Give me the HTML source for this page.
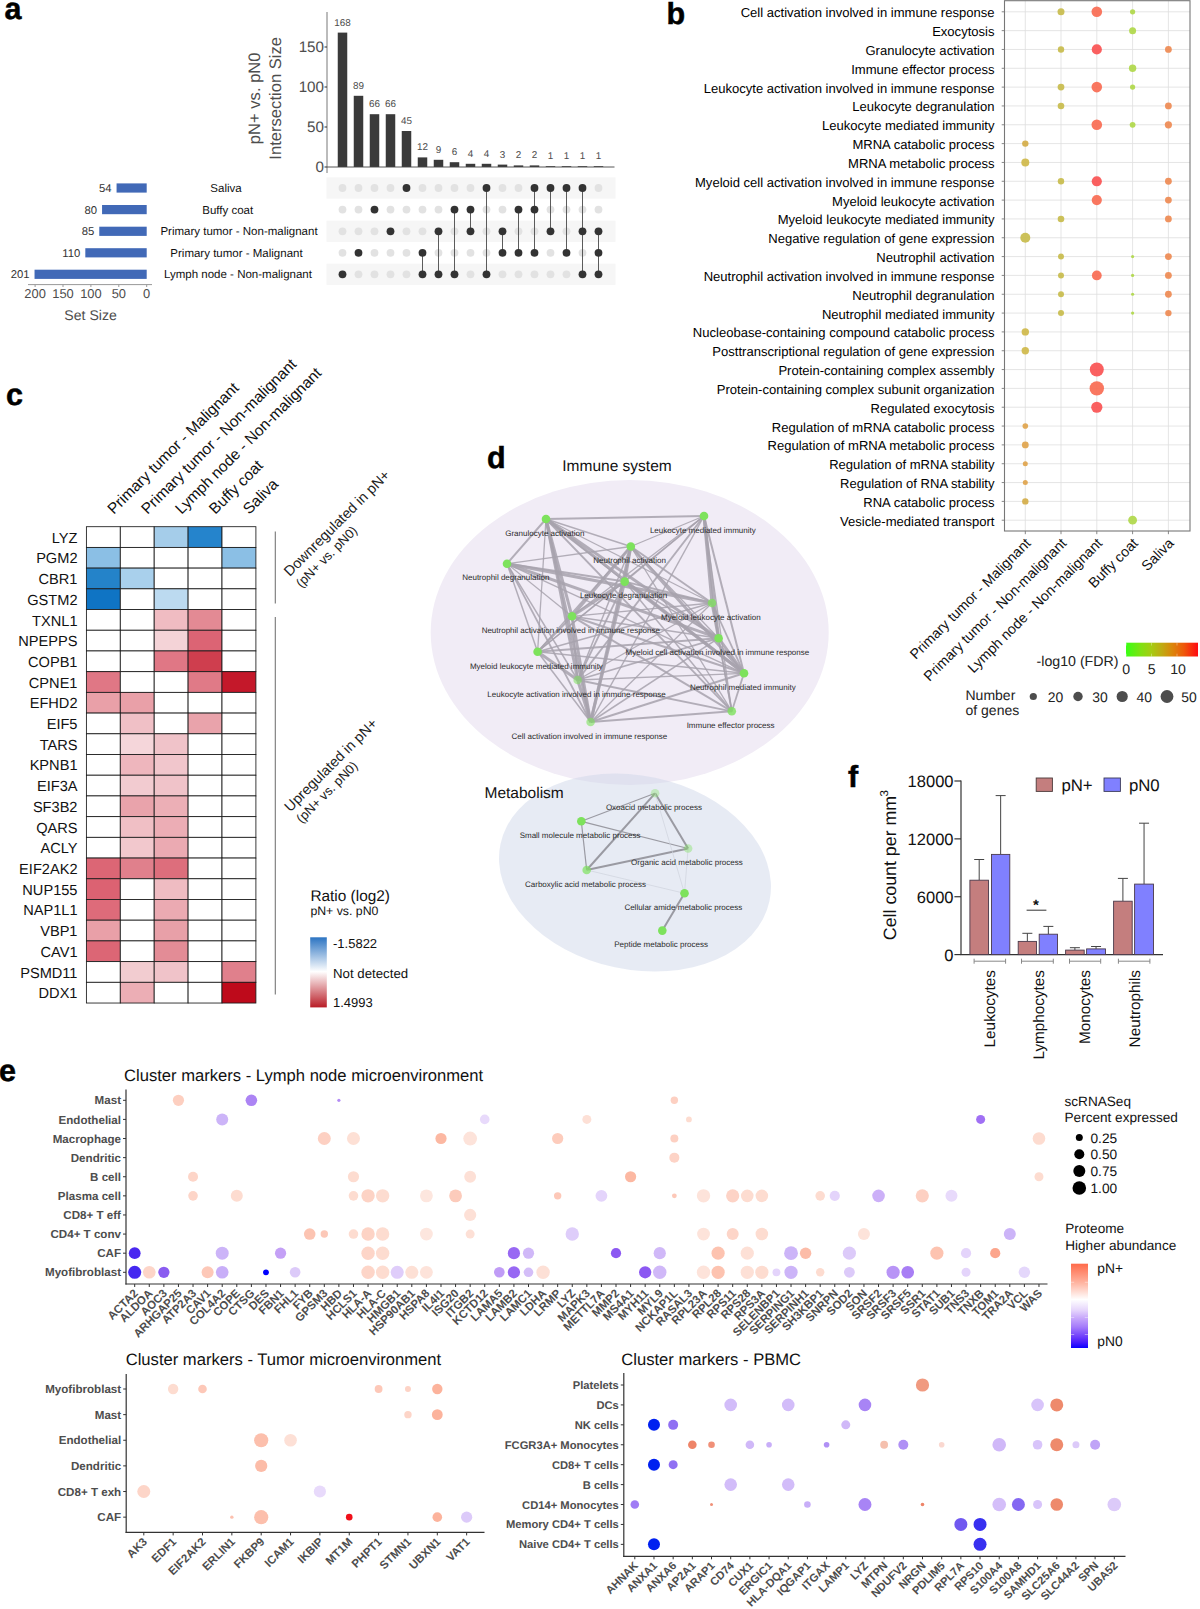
<!DOCTYPE html>
<html><head><meta charset="utf-8"><title>Figure</title>
<style>
html,body{margin:0;padding:0;background:#fff;}
body{width:1200px;height:1609px;overflow:hidden;font-family:"Liberation Sans",sans-serif;}
svg{display:block;font-family:"Liberation Sans",sans-serif;text-rendering:geometricPrecision;}
</style></head><body>
<svg width="1200" height="1609" viewBox="0 0 1200 1609">
<defs>
<linearGradient id="gfdr" x1="0" y1="0" x2="1" y2="0"><stop offset="0" stop-color="#38ff14"/><stop offset="0.2" stop-color="#7ee212"/><stop offset="0.35" stop-color="#a5cc12"/><stop offset="0.5" stop-color="#c0aa12"/><stop offset="0.65" stop-color="#dc840a"/><stop offset="0.8" stop-color="#ee5a0a"/><stop offset="1" stop-color="#ff0a12"/></linearGradient>
<linearGradient id="gratio" x1="0" y1="0" x2="0" y2="1"><stop offset="0" stop-color="#2c74c2"/><stop offset="0.49" stop-color="#ffffff"/><stop offset="1" stop-color="#b91c26"/></linearGradient>
<linearGradient id="gprot" x1="0" y1="0" x2="0" y2="1"><stop offset="0" stop-color="#ff6a4a"/><stop offset="0.22" stop-color="#ffb29e"/><stop offset="0.424" stop-color="#ffffff"/><stop offset="0.55" stop-color="#e6d6fc"/><stop offset="0.64" stop-color="#c9aafb"/><stop offset="0.75" stop-color="#a57cfa"/><stop offset="0.85" stop-color="#7646fb"/><stop offset="0.93" stop-color="#4a1cfd"/><stop offset="1" stop-color="#0a00ff"/></linearGradient>
</defs>
<text x="4.50" y="19.00" font-size="30.5" text-anchor="start" font-weight="bold" fill="#000" stroke="#000" stroke-width="0.5">a</text>
<rect x="337.75" y="32.60" width="9.50" height="134.40" fill="#3a3a3a"/>
<text x="342.50" y="25.54" font-size="9.9" text-anchor="middle" font-weight="normal" fill="#4d4d4d">168</text>
<rect x="353.75" y="95.80" width="9.50" height="71.20" fill="#3a3a3a"/>
<text x="358.50" y="88.74" font-size="9.9" text-anchor="middle" font-weight="normal" fill="#4d4d4d">89</text>
<rect x="369.75" y="114.20" width="9.50" height="52.80" fill="#3a3a3a"/>
<text x="374.50" y="107.14" font-size="9.9" text-anchor="middle" font-weight="normal" fill="#4d4d4d">66</text>
<rect x="385.75" y="114.20" width="9.50" height="52.80" fill="#3a3a3a"/>
<text x="390.50" y="107.14" font-size="9.9" text-anchor="middle" font-weight="normal" fill="#4d4d4d">66</text>
<rect x="401.75" y="131.00" width="9.50" height="36.00" fill="#3a3a3a"/>
<text x="406.50" y="123.94" font-size="9.9" text-anchor="middle" font-weight="normal" fill="#4d4d4d">45</text>
<rect x="417.75" y="157.40" width="9.50" height="9.60" fill="#3a3a3a"/>
<text x="422.50" y="150.34" font-size="9.9" text-anchor="middle" font-weight="normal" fill="#4d4d4d">12</text>
<rect x="433.75" y="159.80" width="9.50" height="7.20" fill="#3a3a3a"/>
<text x="438.50" y="152.74" font-size="9.9" text-anchor="middle" font-weight="normal" fill="#4d4d4d">9</text>
<rect x="449.75" y="162.20" width="9.50" height="4.80" fill="#3a3a3a"/>
<text x="454.50" y="155.14" font-size="9.9" text-anchor="middle" font-weight="normal" fill="#4d4d4d">6</text>
<rect x="465.75" y="163.80" width="9.50" height="3.20" fill="#3a3a3a"/>
<text x="470.50" y="156.74" font-size="9.9" text-anchor="middle" font-weight="normal" fill="#4d4d4d">4</text>
<rect x="481.75" y="163.80" width="9.50" height="3.20" fill="#3a3a3a"/>
<text x="486.50" y="156.74" font-size="9.9" text-anchor="middle" font-weight="normal" fill="#4d4d4d">4</text>
<rect x="497.75" y="164.60" width="9.50" height="2.40" fill="#3a3a3a"/>
<text x="502.50" y="157.54" font-size="9.9" text-anchor="middle" font-weight="normal" fill="#4d4d4d">3</text>
<rect x="513.75" y="165.40" width="9.50" height="1.60" fill="#3a3a3a"/>
<text x="518.50" y="158.34" font-size="9.9" text-anchor="middle" font-weight="normal" fill="#4d4d4d">2</text>
<rect x="529.75" y="165.40" width="9.50" height="1.60" fill="#3a3a3a"/>
<text x="534.50" y="158.34" font-size="9.9" text-anchor="middle" font-weight="normal" fill="#4d4d4d">2</text>
<rect x="545.75" y="166.20" width="9.50" height="0.80" fill="#3a3a3a"/>
<text x="550.50" y="159.14" font-size="9.9" text-anchor="middle" font-weight="normal" fill="#4d4d4d">1</text>
<rect x="561.75" y="166.20" width="9.50" height="0.80" fill="#3a3a3a"/>
<text x="566.50" y="159.14" font-size="9.9" text-anchor="middle" font-weight="normal" fill="#4d4d4d">1</text>
<rect x="577.75" y="166.20" width="9.50" height="0.80" fill="#3a3a3a"/>
<text x="582.50" y="159.14" font-size="9.9" text-anchor="middle" font-weight="normal" fill="#4d4d4d">1</text>
<rect x="593.75" y="166.20" width="9.50" height="0.80" fill="#3a3a3a"/>
<text x="598.50" y="159.14" font-size="9.9" text-anchor="middle" font-weight="normal" fill="#4d4d4d">1</text>
<line x1="327.00" y1="12.00" x2="327.00" y2="173.00" stroke="#555" stroke-width="0.8"/>
<line x1="327.00" y1="167.00" x2="614.50" y2="167.00" stroke="#444" stroke-width="0.9"/>
<line x1="324.50" y1="167.00" x2="327.00" y2="167.00" stroke="#333" stroke-width="1"/>
<text x="324.00" y="172.14" font-size="15.2" text-anchor="end" font-weight="normal" fill="#4d4d4d">0</text>
<line x1="324.50" y1="127.00" x2="327.00" y2="127.00" stroke="#333" stroke-width="1"/>
<text x="324.00" y="132.14" font-size="15.2" text-anchor="end" font-weight="normal" fill="#4d4d4d">50</text>
<line x1="324.50" y1="87.00" x2="327.00" y2="87.00" stroke="#333" stroke-width="1"/>
<text x="324.00" y="92.14" font-size="15.2" text-anchor="end" font-weight="normal" fill="#4d4d4d">100</text>
<line x1="324.50" y1="47.00" x2="327.00" y2="47.00" stroke="#333" stroke-width="1"/>
<text x="324.00" y="52.14" font-size="15.2" text-anchor="end" font-weight="normal" fill="#4d4d4d">150</text>
<text x="260.50" y="98.30" font-size="16.6" text-anchor="middle" font-weight="normal" fill="#4d4d4d" transform="rotate(-90 260.50 98.30)">pN+ vs. pN0</text>
<text x="281.00" y="98.30" font-size="16.6" text-anchor="middle" font-weight="normal" fill="#4d4d4d" transform="rotate(-90 281.00 98.30)">Intersection Size</text>
<rect x="326.50" y="177.40" width="289.00" height="21.20" fill="#f6f6f6"/>
<rect x="326.50" y="220.70" width="289.00" height="21.20" fill="#f6f6f6"/>
<rect x="326.50" y="263.70" width="289.00" height="21.20" fill="#f6f6f6"/>
<circle cx="342.50" cy="188.00" r="3.90" fill="#e2e2e2"/>
<circle cx="342.50" cy="209.60" r="3.90" fill="#e2e2e2"/>
<circle cx="342.50" cy="231.30" r="3.90" fill="#e2e2e2"/>
<circle cx="342.50" cy="252.80" r="3.90" fill="#e2e2e2"/>
<circle cx="342.50" cy="274.30" r="3.90" fill="#333333"/>
<circle cx="358.50" cy="188.00" r="3.90" fill="#e2e2e2"/>
<circle cx="358.50" cy="209.60" r="3.90" fill="#e2e2e2"/>
<circle cx="358.50" cy="231.30" r="3.90" fill="#e2e2e2"/>
<circle cx="358.50" cy="274.30" r="3.90" fill="#e2e2e2"/>
<circle cx="358.50" cy="252.80" r="3.90" fill="#333333"/>
<circle cx="374.50" cy="188.00" r="3.90" fill="#e2e2e2"/>
<circle cx="374.50" cy="231.30" r="3.90" fill="#e2e2e2"/>
<circle cx="374.50" cy="252.80" r="3.90" fill="#e2e2e2"/>
<circle cx="374.50" cy="274.30" r="3.90" fill="#e2e2e2"/>
<circle cx="374.50" cy="209.60" r="3.90" fill="#333333"/>
<circle cx="390.50" cy="188.00" r="3.90" fill="#e2e2e2"/>
<circle cx="390.50" cy="209.60" r="3.90" fill="#e2e2e2"/>
<circle cx="390.50" cy="252.80" r="3.90" fill="#e2e2e2"/>
<circle cx="390.50" cy="274.30" r="3.90" fill="#e2e2e2"/>
<circle cx="390.50" cy="231.30" r="3.90" fill="#333333"/>
<circle cx="406.50" cy="209.60" r="3.90" fill="#e2e2e2"/>
<circle cx="406.50" cy="231.30" r="3.90" fill="#e2e2e2"/>
<circle cx="406.50" cy="252.80" r="3.90" fill="#e2e2e2"/>
<circle cx="406.50" cy="274.30" r="3.90" fill="#e2e2e2"/>
<circle cx="406.50" cy="188.00" r="3.90" fill="#333333"/>
<circle cx="422.50" cy="188.00" r="3.90" fill="#e2e2e2"/>
<circle cx="422.50" cy="209.60" r="3.90" fill="#e2e2e2"/>
<circle cx="422.50" cy="231.30" r="3.90" fill="#e2e2e2"/>
<line x1="422.50" y1="252.80" x2="422.50" y2="274.30" stroke="#4a4a4a" stroke-width="0.9"/>
<circle cx="422.50" cy="252.80" r="3.90" fill="#333333"/>
<circle cx="422.50" cy="274.30" r="3.90" fill="#333333"/>
<circle cx="438.50" cy="188.00" r="3.90" fill="#e2e2e2"/>
<circle cx="438.50" cy="209.60" r="3.90" fill="#e2e2e2"/>
<circle cx="438.50" cy="252.80" r="3.90" fill="#e2e2e2"/>
<line x1="438.50" y1="231.30" x2="438.50" y2="274.30" stroke="#4a4a4a" stroke-width="0.9"/>
<circle cx="438.50" cy="231.30" r="3.90" fill="#333333"/>
<circle cx="438.50" cy="274.30" r="3.90" fill="#333333"/>
<circle cx="454.50" cy="188.00" r="3.90" fill="#e2e2e2"/>
<circle cx="454.50" cy="231.30" r="3.90" fill="#e2e2e2"/>
<circle cx="454.50" cy="252.80" r="3.90" fill="#e2e2e2"/>
<line x1="454.50" y1="209.60" x2="454.50" y2="274.30" stroke="#4a4a4a" stroke-width="0.9"/>
<circle cx="454.50" cy="209.60" r="3.90" fill="#333333"/>
<circle cx="454.50" cy="274.30" r="3.90" fill="#333333"/>
<circle cx="470.50" cy="188.00" r="3.90" fill="#e2e2e2"/>
<circle cx="470.50" cy="252.80" r="3.90" fill="#e2e2e2"/>
<circle cx="470.50" cy="274.30" r="3.90" fill="#e2e2e2"/>
<line x1="470.50" y1="209.60" x2="470.50" y2="231.30" stroke="#4a4a4a" stroke-width="0.9"/>
<circle cx="470.50" cy="209.60" r="3.90" fill="#333333"/>
<circle cx="470.50" cy="231.30" r="3.90" fill="#333333"/>
<circle cx="486.50" cy="209.60" r="3.90" fill="#e2e2e2"/>
<circle cx="486.50" cy="231.30" r="3.90" fill="#e2e2e2"/>
<circle cx="486.50" cy="252.80" r="3.90" fill="#e2e2e2"/>
<line x1="486.50" y1="188.00" x2="486.50" y2="274.30" stroke="#4a4a4a" stroke-width="0.9"/>
<circle cx="486.50" cy="188.00" r="3.90" fill="#333333"/>
<circle cx="486.50" cy="274.30" r="3.90" fill="#333333"/>
<circle cx="502.50" cy="188.00" r="3.90" fill="#e2e2e2"/>
<circle cx="502.50" cy="209.60" r="3.90" fill="#e2e2e2"/>
<circle cx="502.50" cy="274.30" r="3.90" fill="#e2e2e2"/>
<line x1="502.50" y1="231.30" x2="502.50" y2="252.80" stroke="#4a4a4a" stroke-width="0.9"/>
<circle cx="502.50" cy="231.30" r="3.90" fill="#333333"/>
<circle cx="502.50" cy="252.80" r="3.90" fill="#333333"/>
<circle cx="518.50" cy="188.00" r="3.90" fill="#e2e2e2"/>
<circle cx="518.50" cy="231.30" r="3.90" fill="#e2e2e2"/>
<circle cx="518.50" cy="274.30" r="3.90" fill="#e2e2e2"/>
<line x1="518.50" y1="209.60" x2="518.50" y2="252.80" stroke="#4a4a4a" stroke-width="0.9"/>
<circle cx="518.50" cy="209.60" r="3.90" fill="#333333"/>
<circle cx="518.50" cy="252.80" r="3.90" fill="#333333"/>
<circle cx="534.50" cy="231.30" r="3.90" fill="#e2e2e2"/>
<circle cx="534.50" cy="274.30" r="3.90" fill="#e2e2e2"/>
<line x1="534.50" y1="188.00" x2="534.50" y2="252.80" stroke="#4a4a4a" stroke-width="0.9"/>
<circle cx="534.50" cy="188.00" r="3.90" fill="#333333"/>
<circle cx="534.50" cy="209.60" r="3.90" fill="#333333"/>
<circle cx="534.50" cy="252.80" r="3.90" fill="#333333"/>
<circle cx="550.50" cy="209.60" r="3.90" fill="#e2e2e2"/>
<circle cx="550.50" cy="252.80" r="3.90" fill="#e2e2e2"/>
<circle cx="550.50" cy="274.30" r="3.90" fill="#e2e2e2"/>
<line x1="550.50" y1="188.00" x2="550.50" y2="231.30" stroke="#4a4a4a" stroke-width="0.9"/>
<circle cx="550.50" cy="188.00" r="3.90" fill="#333333"/>
<circle cx="550.50" cy="231.30" r="3.90" fill="#333333"/>
<circle cx="566.50" cy="209.60" r="3.90" fill="#e2e2e2"/>
<circle cx="566.50" cy="231.30" r="3.90" fill="#e2e2e2"/>
<circle cx="566.50" cy="274.30" r="3.90" fill="#e2e2e2"/>
<line x1="566.50" y1="188.00" x2="566.50" y2="252.80" stroke="#4a4a4a" stroke-width="0.9"/>
<circle cx="566.50" cy="188.00" r="3.90" fill="#333333"/>
<circle cx="566.50" cy="252.80" r="3.90" fill="#333333"/>
<circle cx="582.50" cy="209.60" r="3.90" fill="#e2e2e2"/>
<circle cx="582.50" cy="252.80" r="3.90" fill="#e2e2e2"/>
<line x1="582.50" y1="188.00" x2="582.50" y2="274.30" stroke="#4a4a4a" stroke-width="0.9"/>
<circle cx="582.50" cy="188.00" r="3.90" fill="#333333"/>
<circle cx="582.50" cy="231.30" r="3.90" fill="#333333"/>
<circle cx="582.50" cy="274.30" r="3.90" fill="#333333"/>
<circle cx="598.50" cy="188.00" r="3.90" fill="#e2e2e2"/>
<circle cx="598.50" cy="209.60" r="3.90" fill="#e2e2e2"/>
<line x1="598.50" y1="231.30" x2="598.50" y2="274.30" stroke="#4a4a4a" stroke-width="0.9"/>
<circle cx="598.50" cy="231.30" r="3.90" fill="#333333"/>
<circle cx="598.50" cy="252.80" r="3.90" fill="#333333"/>
<circle cx="598.50" cy="274.30" r="3.90" fill="#333333"/>
<text x="226.00" y="192.12" font-size="11.5" text-anchor="middle" font-weight="normal" fill="#111">Saliva</text>
<rect x="116.57" y="183.40" width="30.13" height="9.20" fill="#4169b7"/>
<text x="111.57" y="192.05" font-size="11.3" text-anchor="end" font-weight="normal" fill="#333">54</text>
<text x="227.70" y="213.72" font-size="11.5" text-anchor="middle" font-weight="normal" fill="#111">Buffy coat</text>
<rect x="102.06" y="205.00" width="44.64" height="9.20" fill="#4169b7"/>
<text x="97.06" y="213.65" font-size="11.3" text-anchor="end" font-weight="normal" fill="#333">80</text>
<text x="239.00" y="235.42" font-size="11.5" text-anchor="middle" font-weight="normal" fill="#111">Primary tumor - Non-malignant</text>
<rect x="99.27" y="226.70" width="47.43" height="9.20" fill="#4169b7"/>
<text x="94.27" y="235.35" font-size="11.3" text-anchor="end" font-weight="normal" fill="#333">85</text>
<text x="236.50" y="256.92" font-size="11.5" text-anchor="middle" font-weight="normal" fill="#111">Primary tumor - Malignant</text>
<rect x="85.32" y="248.20" width="61.38" height="9.20" fill="#4169b7"/>
<text x="80.32" y="256.85" font-size="11.3" text-anchor="end" font-weight="normal" fill="#333">110</text>
<text x="238.00" y="278.42" font-size="11.5" text-anchor="middle" font-weight="normal" fill="#111">Lymph node - Non-malignant</text>
<rect x="34.54" y="269.70" width="112.16" height="9.20" fill="#4169b7"/>
<text x="29.54" y="278.35" font-size="11.3" text-anchor="end" font-weight="normal" fill="#333">201</text>
<line x1="28.00" y1="284.60" x2="152.00" y2="284.60" stroke="#999" stroke-width="1"/>
<line x1="146.70" y1="284.60" x2="146.70" y2="287.00" stroke="#999" stroke-width="1"/>
<text x="146.70" y="298.42" font-size="12.9" text-anchor="middle" font-weight="normal" fill="#4d4d4d">0</text>
<line x1="118.80" y1="284.60" x2="118.80" y2="287.00" stroke="#999" stroke-width="1"/>
<text x="118.80" y="298.42" font-size="12.9" text-anchor="middle" font-weight="normal" fill="#4d4d4d">50</text>
<line x1="90.90" y1="284.60" x2="90.90" y2="287.00" stroke="#999" stroke-width="1"/>
<text x="90.90" y="298.42" font-size="12.9" text-anchor="middle" font-weight="normal" fill="#4d4d4d">100</text>
<line x1="63.00" y1="284.60" x2="63.00" y2="287.00" stroke="#999" stroke-width="1"/>
<text x="63.00" y="298.42" font-size="12.9" text-anchor="middle" font-weight="normal" fill="#4d4d4d">150</text>
<line x1="35.10" y1="284.60" x2="35.10" y2="287.00" stroke="#999" stroke-width="1"/>
<text x="35.10" y="298.42" font-size="12.9" text-anchor="middle" font-weight="normal" fill="#4d4d4d">200</text>
<text x="90.60" y="319.55" font-size="14.1" text-anchor="middle" font-weight="normal" fill="#4d4d4d">Set Size</text>
<text x="666.50" y="24.00" font-size="30.5" text-anchor="start" font-weight="bold" fill="#000" stroke="#000" stroke-width="0.5">b</text>
<line x1="1004.50" y1="11.80" x2="1190.00" y2="11.80" stroke="#dedede" stroke-width="0.8"/>
<line x1="1004.50" y1="30.63" x2="1190.00" y2="30.63" stroke="#dedede" stroke-width="0.8"/>
<line x1="1004.50" y1="49.46" x2="1190.00" y2="49.46" stroke="#dedede" stroke-width="0.8"/>
<line x1="1004.50" y1="68.29" x2="1190.00" y2="68.29" stroke="#dedede" stroke-width="0.8"/>
<line x1="1004.50" y1="87.12" x2="1190.00" y2="87.12" stroke="#dedede" stroke-width="0.8"/>
<line x1="1004.50" y1="105.95" x2="1190.00" y2="105.95" stroke="#dedede" stroke-width="0.8"/>
<line x1="1004.50" y1="124.78" x2="1190.00" y2="124.78" stroke="#dedede" stroke-width="0.8"/>
<line x1="1004.50" y1="143.61" x2="1190.00" y2="143.61" stroke="#dedede" stroke-width="0.8"/>
<line x1="1004.50" y1="162.44" x2="1190.00" y2="162.44" stroke="#dedede" stroke-width="0.8"/>
<line x1="1004.50" y1="181.27" x2="1190.00" y2="181.27" stroke="#dedede" stroke-width="0.8"/>
<line x1="1004.50" y1="200.10" x2="1190.00" y2="200.10" stroke="#dedede" stroke-width="0.8"/>
<line x1="1004.50" y1="218.93" x2="1190.00" y2="218.93" stroke="#dedede" stroke-width="0.8"/>
<line x1="1004.50" y1="237.76" x2="1190.00" y2="237.76" stroke="#dedede" stroke-width="0.8"/>
<line x1="1004.50" y1="256.59" x2="1190.00" y2="256.59" stroke="#dedede" stroke-width="0.8"/>
<line x1="1004.50" y1="275.42" x2="1190.00" y2="275.42" stroke="#dedede" stroke-width="0.8"/>
<line x1="1004.50" y1="294.25" x2="1190.00" y2="294.25" stroke="#dedede" stroke-width="0.8"/>
<line x1="1004.50" y1="313.08" x2="1190.00" y2="313.08" stroke="#dedede" stroke-width="0.8"/>
<line x1="1004.50" y1="331.91" x2="1190.00" y2="331.91" stroke="#dedede" stroke-width="0.8"/>
<line x1="1004.50" y1="350.74" x2="1190.00" y2="350.74" stroke="#dedede" stroke-width="0.8"/>
<line x1="1004.50" y1="369.57" x2="1190.00" y2="369.57" stroke="#dedede" stroke-width="0.8"/>
<line x1="1004.50" y1="388.40" x2="1190.00" y2="388.40" stroke="#dedede" stroke-width="0.8"/>
<line x1="1004.50" y1="407.23" x2="1190.00" y2="407.23" stroke="#dedede" stroke-width="0.8"/>
<line x1="1004.50" y1="426.06" x2="1190.00" y2="426.06" stroke="#dedede" stroke-width="0.8"/>
<line x1="1004.50" y1="444.89" x2="1190.00" y2="444.89" stroke="#dedede" stroke-width="0.8"/>
<line x1="1004.50" y1="463.72" x2="1190.00" y2="463.72" stroke="#dedede" stroke-width="0.8"/>
<line x1="1004.50" y1="482.55" x2="1190.00" y2="482.55" stroke="#dedede" stroke-width="0.8"/>
<line x1="1004.50" y1="501.38" x2="1190.00" y2="501.38" stroke="#dedede" stroke-width="0.8"/>
<line x1="1004.50" y1="520.21" x2="1190.00" y2="520.21" stroke="#dedede" stroke-width="0.8"/>
<line x1="1025.30" y1="0.70" x2="1025.30" y2="531.00" stroke="#dedede" stroke-width="0.8"/>
<line x1="1061.00" y1="0.70" x2="1061.00" y2="531.00" stroke="#dedede" stroke-width="0.8"/>
<line x1="1096.80" y1="0.70" x2="1096.80" y2="531.00" stroke="#dedede" stroke-width="0.8"/>
<line x1="1132.60" y1="0.70" x2="1132.60" y2="531.00" stroke="#dedede" stroke-width="0.8"/>
<line x1="1168.40" y1="0.70" x2="1168.40" y2="531.00" stroke="#dedede" stroke-width="0.8"/>
<line x1="1001.70" y1="11.80" x2="1004.50" y2="11.80" stroke="#888" stroke-width="1"/>
<text x="994.50" y="17.27" font-size="13.05" text-anchor="end" font-weight="normal" fill="#000">Cell activation involved in immune response</text>
<line x1="1001.70" y1="30.63" x2="1004.50" y2="30.63" stroke="#888" stroke-width="1"/>
<text x="994.50" y="36.10" font-size="13.05" text-anchor="end" font-weight="normal" fill="#000">Exocytosis</text>
<line x1="1001.70" y1="49.46" x2="1004.50" y2="49.46" stroke="#888" stroke-width="1"/>
<text x="994.50" y="54.93" font-size="13.05" text-anchor="end" font-weight="normal" fill="#000">Granulocyte activation</text>
<line x1="1001.70" y1="68.29" x2="1004.50" y2="68.29" stroke="#888" stroke-width="1"/>
<text x="994.50" y="73.76" font-size="13.05" text-anchor="end" font-weight="normal" fill="#000">Immune effector process</text>
<line x1="1001.70" y1="87.12" x2="1004.50" y2="87.12" stroke="#888" stroke-width="1"/>
<text x="994.50" y="92.59" font-size="13.05" text-anchor="end" font-weight="normal" fill="#000">Leukocyte activation involved in immune response</text>
<line x1="1001.70" y1="105.95" x2="1004.50" y2="105.95" stroke="#888" stroke-width="1"/>
<text x="994.50" y="111.42" font-size="13.05" text-anchor="end" font-weight="normal" fill="#000">Leukocyte degranulation</text>
<line x1="1001.70" y1="124.78" x2="1004.50" y2="124.78" stroke="#888" stroke-width="1"/>
<text x="994.50" y="130.25" font-size="13.05" text-anchor="end" font-weight="normal" fill="#000">Leukocyte mediated immunity</text>
<line x1="1001.70" y1="143.61" x2="1004.50" y2="143.61" stroke="#888" stroke-width="1"/>
<text x="994.50" y="149.08" font-size="13.05" text-anchor="end" font-weight="normal" fill="#000">MRNA catabolic process</text>
<line x1="1001.70" y1="162.44" x2="1004.50" y2="162.44" stroke="#888" stroke-width="1"/>
<text x="994.50" y="167.91" font-size="13.05" text-anchor="end" font-weight="normal" fill="#000">MRNA metabolic process</text>
<line x1="1001.70" y1="181.27" x2="1004.50" y2="181.27" stroke="#888" stroke-width="1"/>
<text x="994.50" y="186.74" font-size="13.05" text-anchor="end" font-weight="normal" fill="#000">Myeloid cell activation involved in immune response</text>
<line x1="1001.70" y1="200.10" x2="1004.50" y2="200.10" stroke="#888" stroke-width="1"/>
<text x="994.50" y="205.57" font-size="13.05" text-anchor="end" font-weight="normal" fill="#000">Myeloid leukocyte activation</text>
<line x1="1001.70" y1="218.93" x2="1004.50" y2="218.93" stroke="#888" stroke-width="1"/>
<text x="994.50" y="224.40" font-size="13.05" text-anchor="end" font-weight="normal" fill="#000">Myeloid leukocyte mediated immunity</text>
<line x1="1001.70" y1="237.76" x2="1004.50" y2="237.76" stroke="#888" stroke-width="1"/>
<text x="994.50" y="243.23" font-size="13.05" text-anchor="end" font-weight="normal" fill="#000">Negative regulation of gene expression</text>
<line x1="1001.70" y1="256.59" x2="1004.50" y2="256.59" stroke="#888" stroke-width="1"/>
<text x="994.50" y="262.06" font-size="13.05" text-anchor="end" font-weight="normal" fill="#000">Neutrophil activation</text>
<line x1="1001.70" y1="275.42" x2="1004.50" y2="275.42" stroke="#888" stroke-width="1"/>
<text x="994.50" y="280.89" font-size="13.05" text-anchor="end" font-weight="normal" fill="#000">Neutrophil activation involved in immune response</text>
<line x1="1001.70" y1="294.25" x2="1004.50" y2="294.25" stroke="#888" stroke-width="1"/>
<text x="994.50" y="299.72" font-size="13.05" text-anchor="end" font-weight="normal" fill="#000">Neutrophil degranulation</text>
<line x1="1001.70" y1="313.08" x2="1004.50" y2="313.08" stroke="#888" stroke-width="1"/>
<text x="994.50" y="318.55" font-size="13.05" text-anchor="end" font-weight="normal" fill="#000">Neutrophil mediated immunity</text>
<line x1="1001.70" y1="331.91" x2="1004.50" y2="331.91" stroke="#888" stroke-width="1"/>
<text x="994.50" y="337.38" font-size="13.05" text-anchor="end" font-weight="normal" fill="#000">Nucleobase-containing compound catabolic process</text>
<line x1="1001.70" y1="350.74" x2="1004.50" y2="350.74" stroke="#888" stroke-width="1"/>
<text x="994.50" y="356.21" font-size="13.05" text-anchor="end" font-weight="normal" fill="#000">Posttranscriptional regulation of gene expression</text>
<line x1="1001.70" y1="369.57" x2="1004.50" y2="369.57" stroke="#888" stroke-width="1"/>
<text x="994.50" y="375.04" font-size="13.05" text-anchor="end" font-weight="normal" fill="#000">Protein-containing complex assembly</text>
<line x1="1001.70" y1="388.40" x2="1004.50" y2="388.40" stroke="#888" stroke-width="1"/>
<text x="994.50" y="393.87" font-size="13.05" text-anchor="end" font-weight="normal" fill="#000">Protein-containing complex subunit organization</text>
<line x1="1001.70" y1="407.23" x2="1004.50" y2="407.23" stroke="#888" stroke-width="1"/>
<text x="994.50" y="412.70" font-size="13.05" text-anchor="end" font-weight="normal" fill="#000">Regulated exocytosis</text>
<line x1="1001.70" y1="426.06" x2="1004.50" y2="426.06" stroke="#888" stroke-width="1"/>
<text x="994.50" y="431.53" font-size="13.05" text-anchor="end" font-weight="normal" fill="#000">Regulation of mRNA catabolic process</text>
<line x1="1001.70" y1="444.89" x2="1004.50" y2="444.89" stroke="#888" stroke-width="1"/>
<text x="994.50" y="450.36" font-size="13.05" text-anchor="end" font-weight="normal" fill="#000">Regulation of mRNA metabolic process</text>
<line x1="1001.70" y1="463.72" x2="1004.50" y2="463.72" stroke="#888" stroke-width="1"/>
<text x="994.50" y="469.19" font-size="13.05" text-anchor="end" font-weight="normal" fill="#000">Regulation of mRNA stability</text>
<line x1="1001.70" y1="482.55" x2="1004.50" y2="482.55" stroke="#888" stroke-width="1"/>
<text x="994.50" y="488.02" font-size="13.05" text-anchor="end" font-weight="normal" fill="#000">Regulation of RNA stability</text>
<line x1="1001.70" y1="501.38" x2="1004.50" y2="501.38" stroke="#888" stroke-width="1"/>
<text x="994.50" y="506.85" font-size="13.05" text-anchor="end" font-weight="normal" fill="#000">RNA catabolic process</text>
<line x1="1001.70" y1="520.21" x2="1004.50" y2="520.21" stroke="#888" stroke-width="1"/>
<text x="994.50" y="525.68" font-size="13.05" text-anchor="end" font-weight="normal" fill="#000">Vesicle-mediated transport</text>
<line x1="1025.30" y1="531.00" x2="1025.30" y2="534.20" stroke="#888" stroke-width="1"/>
<line x1="1061.00" y1="531.00" x2="1061.00" y2="534.20" stroke="#888" stroke-width="1"/>
<line x1="1096.80" y1="531.00" x2="1096.80" y2="534.20" stroke="#888" stroke-width="1"/>
<line x1="1132.60" y1="531.00" x2="1132.60" y2="534.20" stroke="#888" stroke-width="1"/>
<line x1="1168.40" y1="531.00" x2="1168.40" y2="534.20" stroke="#888" stroke-width="1"/>
<circle cx="1061.00" cy="11.80" r="3.50" fill="#c8bc4c" fill-opacity="0.92"/>
<circle cx="1096.80" cy="11.80" r="5.30" fill="#f96b52" fill-opacity="0.92"/>
<circle cx="1132.60" cy="11.80" r="2.60" fill="#b0d84a" fill-opacity="0.92"/>
<circle cx="1132.60" cy="30.63" r="3.50" fill="#b0d84a" fill-opacity="0.92"/>
<circle cx="1061.00" cy="49.46" r="3.20" fill="#c8bc4c" fill-opacity="0.92"/>
<circle cx="1096.80" cy="49.46" r="5.10" fill="#fa5252" fill-opacity="0.92"/>
<circle cx="1168.40" cy="49.46" r="3.40" fill="#ee8a52" fill-opacity="0.92"/>
<circle cx="1132.60" cy="68.29" r="3.70" fill="#b0d84a" fill-opacity="0.92"/>
<circle cx="1061.00" cy="87.12" r="3.40" fill="#c8bc4c" fill-opacity="0.92"/>
<circle cx="1096.80" cy="87.12" r="5.30" fill="#f96b52" fill-opacity="0.92"/>
<circle cx="1132.60" cy="87.12" r="2.60" fill="#b0d84a" fill-opacity="0.92"/>
<circle cx="1061.00" cy="105.95" r="3.30" fill="#c8bc4c" fill-opacity="0.92"/>
<circle cx="1168.40" cy="105.95" r="3.40" fill="#ee8a52" fill-opacity="0.92"/>
<circle cx="1096.80" cy="124.78" r="5.30" fill="#f96b52" fill-opacity="0.92"/>
<circle cx="1132.60" cy="124.78" r="2.90" fill="#b0d84a" fill-opacity="0.92"/>
<circle cx="1168.40" cy="124.78" r="3.60" fill="#ee8a52" fill-opacity="0.92"/>
<circle cx="1025.30" cy="143.61" r="3.20" fill="#d4ac48" fill-opacity="0.92"/>
<circle cx="1025.30" cy="162.44" r="4.00" fill="#cfb84a" fill-opacity="0.92"/>
<circle cx="1061.00" cy="181.27" r="3.20" fill="#c8bc4c" fill-opacity="0.92"/>
<circle cx="1096.80" cy="181.27" r="5.10" fill="#fa5252" fill-opacity="0.92"/>
<circle cx="1168.40" cy="181.27" r="3.40" fill="#ee8a52" fill-opacity="0.92"/>
<circle cx="1096.80" cy="200.10" r="5.10" fill="#f96b52" fill-opacity="0.92"/>
<circle cx="1168.40" cy="200.10" r="3.40" fill="#ee8a52" fill-opacity="0.92"/>
<circle cx="1061.00" cy="218.93" r="3.30" fill="#c8bc4c" fill-opacity="0.92"/>
<circle cx="1168.40" cy="218.93" r="3.40" fill="#ee8a52" fill-opacity="0.92"/>
<circle cx="1025.30" cy="237.76" r="5.00" fill="#c8bc4c" fill-opacity="0.92"/>
<circle cx="1061.00" cy="256.59" r="3.00" fill="#c8bc4c" fill-opacity="0.92"/>
<circle cx="1132.60" cy="256.59" r="1.60" fill="#b0d84a" fill-opacity="0.92"/>
<circle cx="1168.40" cy="256.59" r="3.40" fill="#ee8a52" fill-opacity="0.92"/>
<circle cx="1061.00" cy="275.42" r="3.00" fill="#c8bc4c" fill-opacity="0.92"/>
<circle cx="1096.80" cy="275.42" r="4.90" fill="#f96b52" fill-opacity="0.92"/>
<circle cx="1132.60" cy="275.42" r="1.60" fill="#b0d84a" fill-opacity="0.92"/>
<circle cx="1168.40" cy="275.42" r="3.40" fill="#ee8a52" fill-opacity="0.92"/>
<circle cx="1061.00" cy="294.25" r="3.00" fill="#c8bc4c" fill-opacity="0.92"/>
<circle cx="1132.60" cy="294.25" r="1.60" fill="#b0d84a" fill-opacity="0.92"/>
<circle cx="1168.40" cy="294.25" r="3.40" fill="#ee8a52" fill-opacity="0.92"/>
<circle cx="1061.00" cy="313.08" r="3.00" fill="#c8bc4c" fill-opacity="0.92"/>
<circle cx="1132.60" cy="313.08" r="1.60" fill="#b0d84a" fill-opacity="0.92"/>
<circle cx="1168.40" cy="313.08" r="3.20" fill="#ee8a52" fill-opacity="0.92"/>
<circle cx="1025.30" cy="331.91" r="3.70" fill="#cfb84a" fill-opacity="0.92"/>
<circle cx="1025.30" cy="350.74" r="3.70" fill="#cfb84a" fill-opacity="0.92"/>
<circle cx="1096.80" cy="369.57" r="7.00" fill="#fa5252" fill-opacity="0.92"/>
<circle cx="1096.80" cy="388.40" r="7.20" fill="#f96b52" fill-opacity="0.92"/>
<circle cx="1096.80" cy="407.23" r="5.60" fill="#fa5252" fill-opacity="0.92"/>
<circle cx="1025.30" cy="426.06" r="2.80" fill="#e0a44c" fill-opacity="0.92"/>
<circle cx="1025.30" cy="444.89" r="3.40" fill="#e0a44c" fill-opacity="0.92"/>
<circle cx="1025.30" cy="463.72" r="2.50" fill="#e0a44c" fill-opacity="0.92"/>
<circle cx="1025.30" cy="482.55" r="2.50" fill="#e0a44c" fill-opacity="0.92"/>
<circle cx="1025.30" cy="501.38" r="3.20" fill="#d4ac48" fill-opacity="0.92"/>
<circle cx="1132.60" cy="520.21" r="4.40" fill="#b0d84a" fill-opacity="0.92"/>
<rect x="1004.50" y="0.70" width="185.50" height="530.30" fill="none" stroke="#777" stroke-width="1.1"/>
<text x="1031.60" y="544.20" font-size="14.25" text-anchor="end" font-weight="normal" fill="#111" transform="rotate(-45 1031.60 544.20)">Primary tumor - Malignant</text>
<text x="1067.30" y="544.20" font-size="14.25" text-anchor="end" font-weight="normal" fill="#111" transform="rotate(-45 1067.30 544.20)">Primary tumor - Non-malignant</text>
<text x="1103.10" y="544.20" font-size="14.25" text-anchor="end" font-weight="normal" fill="#111" transform="rotate(-45 1103.10 544.20)">Lymph node - Non-malignant</text>
<text x="1138.90" y="544.20" font-size="14.25" text-anchor="end" font-weight="normal" fill="#111" transform="rotate(-45 1138.90 544.20)">Buffy coat</text>
<text x="1174.70" y="544.20" font-size="14.25" text-anchor="end" font-weight="normal" fill="#111" transform="rotate(-45 1174.70 544.20)">Saliva</text>
<rect x="1126.00" y="642.70" width="72.00" height="13.80" fill="url(#gfdr)"/>
<line x1="1126.30" y1="642.70" x2="1126.30" y2="645.50" stroke="#fff" stroke-width="0.7" opacity="0.5"/>
<line x1="1126.30" y1="653.70" x2="1126.30" y2="656.50" stroke="#fff" stroke-width="0.7" opacity="0.5"/>
<text x="1126.20" y="673.95" font-size="14.1" text-anchor="middle" font-weight="normal" fill="#222">0</text>
<line x1="1151.60" y1="642.70" x2="1151.60" y2="645.50" stroke="#fff" stroke-width="0.7" opacity="0.5"/>
<line x1="1151.60" y1="653.70" x2="1151.60" y2="656.50" stroke="#fff" stroke-width="0.7" opacity="0.5"/>
<text x="1151.70" y="673.95" font-size="14.1" text-anchor="middle" font-weight="normal" fill="#222">5</text>
<line x1="1177.00" y1="642.70" x2="1177.00" y2="645.50" stroke="#fff" stroke-width="0.7" opacity="0.5"/>
<line x1="1177.00" y1="653.70" x2="1177.00" y2="656.50" stroke="#fff" stroke-width="0.7" opacity="0.5"/>
<text x="1178.00" y="673.95" font-size="14.1" text-anchor="middle" font-weight="normal" fill="#222">10</text>
<text x="1118.50" y="666.08" font-size="14.2" text-anchor="end" font-weight="normal" fill="#222">-log10 (FDR)</text>
<text x="965.50" y="700.01" font-size="14" text-anchor="start" font-weight="normal" fill="#222">Number</text>
<text x="965.50" y="715.01" font-size="14" text-anchor="start" font-weight="normal" fill="#222">of genes</text>
<circle cx="1033.30" cy="696.50" r="3.60" fill="#4d4d4d"/>
<text x="1055.50" y="701.78" font-size="13.9" text-anchor="middle" font-weight="normal" fill="#222">20</text>
<circle cx="1078.00" cy="696.50" r="4.70" fill="#4d4d4d"/>
<text x="1100.00" y="701.78" font-size="13.9" text-anchor="middle" font-weight="normal" fill="#222">30</text>
<circle cx="1122.20" cy="696.50" r="5.60" fill="#4d4d4d"/>
<text x="1144.20" y="701.78" font-size="13.9" text-anchor="middle" font-weight="normal" fill="#222">40</text>
<circle cx="1167.00" cy="696.50" r="6.40" fill="#4d4d4d"/>
<text x="1189.00" y="701.78" font-size="13.9" text-anchor="middle" font-weight="normal" fill="#222">50</text>
<text x="6.00" y="404.50" font-size="30.5" text-anchor="start" font-weight="bold" fill="#000" stroke="#000" stroke-width="0.5">c</text>
<text x="77.50" y="542.68" font-size="14.6" text-anchor="end" font-weight="normal" fill="#111">LYZ</text>
<rect x="86.40" y="526.70" width="33.90" height="20.71" fill="#ffffff" stroke="#1a1a1a" stroke-width="0.85"/>
<rect x="120.30" y="526.70" width="33.90" height="20.71" fill="#ffffff" stroke="#1a1a1a" stroke-width="0.85"/>
<rect x="154.20" y="526.70" width="33.90" height="20.71" fill="#a5cdea" stroke="#1a1a1a" stroke-width="0.85"/>
<rect x="188.10" y="526.70" width="33.90" height="20.71" fill="#2584cc" stroke="#1a1a1a" stroke-width="0.85"/>
<rect x="222.00" y="526.70" width="33.90" height="20.71" fill="#ffffff" stroke="#1a1a1a" stroke-width="0.85"/>
<text x="77.50" y="563.39" font-size="14.6" text-anchor="end" font-weight="normal" fill="#111">PGM2</text>
<rect x="86.40" y="547.41" width="33.90" height="20.71" fill="#8bbfe5" stroke="#1a1a1a" stroke-width="0.85"/>
<rect x="120.30" y="547.41" width="33.90" height="20.71" fill="#ffffff" stroke="#1a1a1a" stroke-width="0.85"/>
<rect x="154.20" y="547.41" width="33.90" height="20.71" fill="#ffffff" stroke="#1a1a1a" stroke-width="0.85"/>
<rect x="188.10" y="547.41" width="33.90" height="20.71" fill="#ffffff" stroke="#1a1a1a" stroke-width="0.85"/>
<rect x="222.00" y="547.41" width="33.90" height="20.71" fill="#8bbfe5" stroke="#1a1a1a" stroke-width="0.85"/>
<text x="77.50" y="584.10" font-size="14.6" text-anchor="end" font-weight="normal" fill="#111">CBR1</text>
<rect x="86.40" y="568.12" width="33.90" height="20.71" fill="#2483c9" stroke="#1a1a1a" stroke-width="0.85"/>
<rect x="120.30" y="568.12" width="33.90" height="20.71" fill="#a9d0ec" stroke="#1a1a1a" stroke-width="0.85"/>
<rect x="154.20" y="568.12" width="33.90" height="20.71" fill="#ffffff" stroke="#1a1a1a" stroke-width="0.85"/>
<rect x="188.10" y="568.12" width="33.90" height="20.71" fill="#ffffff" stroke="#1a1a1a" stroke-width="0.85"/>
<rect x="222.00" y="568.12" width="33.90" height="20.71" fill="#ffffff" stroke="#1a1a1a" stroke-width="0.85"/>
<text x="77.50" y="604.81" font-size="14.6" text-anchor="end" font-weight="normal" fill="#111">GSTM2</text>
<rect x="86.40" y="588.83" width="33.90" height="20.71" fill="#0f74c4" stroke="#1a1a1a" stroke-width="0.85"/>
<rect x="120.30" y="588.83" width="33.90" height="20.71" fill="#ffffff" stroke="#1a1a1a" stroke-width="0.85"/>
<rect x="154.20" y="588.83" width="33.90" height="20.71" fill="#bcdaf0" stroke="#1a1a1a" stroke-width="0.85"/>
<rect x="188.10" y="588.83" width="33.90" height="20.71" fill="#ffffff" stroke="#1a1a1a" stroke-width="0.85"/>
<rect x="222.00" y="588.83" width="33.90" height="20.71" fill="#ffffff" stroke="#1a1a1a" stroke-width="0.85"/>
<text x="77.50" y="625.52" font-size="14.6" text-anchor="end" font-weight="normal" fill="#111">TXNL1</text>
<rect x="86.40" y="609.54" width="33.90" height="20.71" fill="#ffffff" stroke="#1a1a1a" stroke-width="0.85"/>
<rect x="120.30" y="609.54" width="33.90" height="20.71" fill="#ffffff" stroke="#1a1a1a" stroke-width="0.85"/>
<rect x="154.20" y="609.54" width="33.90" height="20.71" fill="#f0bcc2" stroke="#1a1a1a" stroke-width="0.85"/>
<rect x="188.10" y="609.54" width="33.90" height="20.71" fill="#e38a94" stroke="#1a1a1a" stroke-width="0.85"/>
<rect x="222.00" y="609.54" width="33.90" height="20.71" fill="#ffffff" stroke="#1a1a1a" stroke-width="0.85"/>
<text x="77.50" y="646.23" font-size="14.6" text-anchor="end" font-weight="normal" fill="#111">NPEPPS</text>
<rect x="86.40" y="630.25" width="33.90" height="20.71" fill="#ffffff" stroke="#1a1a1a" stroke-width="0.85"/>
<rect x="120.30" y="630.25" width="33.90" height="20.71" fill="#ffffff" stroke="#1a1a1a" stroke-width="0.85"/>
<rect x="154.20" y="630.25" width="33.90" height="20.71" fill="#f4d3d7" stroke="#1a1a1a" stroke-width="0.85"/>
<rect x="188.10" y="630.25" width="33.90" height="20.71" fill="#dc6474" stroke="#1a1a1a" stroke-width="0.85"/>
<rect x="222.00" y="630.25" width="33.90" height="20.71" fill="#ffffff" stroke="#1a1a1a" stroke-width="0.85"/>
<text x="77.50" y="666.94" font-size="14.6" text-anchor="end" font-weight="normal" fill="#111">COPB1</text>
<rect x="86.40" y="650.96" width="33.90" height="20.71" fill="#ffffff" stroke="#1a1a1a" stroke-width="0.85"/>
<rect x="120.30" y="650.96" width="33.90" height="20.71" fill="#ffffff" stroke="#1a1a1a" stroke-width="0.85"/>
<rect x="154.20" y="650.96" width="33.90" height="20.71" fill="#e07785" stroke="#1a1a1a" stroke-width="0.85"/>
<rect x="188.10" y="650.96" width="33.90" height="20.71" fill="#cf3e4e" stroke="#1a1a1a" stroke-width="0.85"/>
<rect x="222.00" y="650.96" width="33.90" height="20.71" fill="#ffffff" stroke="#1a1a1a" stroke-width="0.85"/>
<text x="77.50" y="687.65" font-size="14.6" text-anchor="end" font-weight="normal" fill="#111">CPNE1</text>
<rect x="86.40" y="671.67" width="33.90" height="20.71" fill="#e07785" stroke="#1a1a1a" stroke-width="0.85"/>
<rect x="120.30" y="671.67" width="33.90" height="20.71" fill="#ffffff" stroke="#1a1a1a" stroke-width="0.85"/>
<rect x="154.20" y="671.67" width="33.90" height="20.71" fill="#ffffff" stroke="#1a1a1a" stroke-width="0.85"/>
<rect x="188.10" y="671.67" width="33.90" height="20.71" fill="#e07a87" stroke="#1a1a1a" stroke-width="0.85"/>
<rect x="222.00" y="671.67" width="33.90" height="20.71" fill="#c4182a" stroke="#1a1a1a" stroke-width="0.85"/>
<text x="77.50" y="708.36" font-size="14.6" text-anchor="end" font-weight="normal" fill="#111">EFHD2</text>
<rect x="86.40" y="692.38" width="33.90" height="20.71" fill="#e9a0a8" stroke="#1a1a1a" stroke-width="0.85"/>
<rect x="120.30" y="692.38" width="33.90" height="20.71" fill="#e9a0a8" stroke="#1a1a1a" stroke-width="0.85"/>
<rect x="154.20" y="692.38" width="33.90" height="20.71" fill="#ffffff" stroke="#1a1a1a" stroke-width="0.85"/>
<rect x="188.10" y="692.38" width="33.90" height="20.71" fill="#ffffff" stroke="#1a1a1a" stroke-width="0.85"/>
<rect x="222.00" y="692.38" width="33.90" height="20.71" fill="#ffffff" stroke="#1a1a1a" stroke-width="0.85"/>
<text x="77.50" y="729.07" font-size="14.6" text-anchor="end" font-weight="normal" fill="#111">EIF5</text>
<rect x="86.40" y="713.09" width="33.90" height="20.71" fill="#ffffff" stroke="#1a1a1a" stroke-width="0.85"/>
<rect x="120.30" y="713.09" width="33.90" height="20.71" fill="#f0c0c6" stroke="#1a1a1a" stroke-width="0.85"/>
<rect x="154.20" y="713.09" width="33.90" height="20.71" fill="#ffffff" stroke="#1a1a1a" stroke-width="0.85"/>
<rect x="188.10" y="713.09" width="33.90" height="20.71" fill="#e9a3ab" stroke="#1a1a1a" stroke-width="0.85"/>
<rect x="222.00" y="713.09" width="33.90" height="20.71" fill="#ffffff" stroke="#1a1a1a" stroke-width="0.85"/>
<text x="77.50" y="749.78" font-size="14.6" text-anchor="end" font-weight="normal" fill="#111">TARS</text>
<rect x="86.40" y="733.80" width="33.90" height="20.71" fill="#ffffff" stroke="#1a1a1a" stroke-width="0.85"/>
<rect x="120.30" y="733.80" width="33.90" height="20.71" fill="#f5d6da" stroke="#1a1a1a" stroke-width="0.85"/>
<rect x="154.20" y="733.80" width="33.90" height="20.71" fill="#f0c3c9" stroke="#1a1a1a" stroke-width="0.85"/>
<rect x="188.10" y="733.80" width="33.90" height="20.71" fill="#ffffff" stroke="#1a1a1a" stroke-width="0.85"/>
<rect x="222.00" y="733.80" width="33.90" height="20.71" fill="#ffffff" stroke="#1a1a1a" stroke-width="0.85"/>
<text x="77.50" y="770.49" font-size="14.6" text-anchor="end" font-weight="normal" fill="#111">KPNB1</text>
<rect x="86.40" y="754.51" width="33.90" height="20.71" fill="#ffffff" stroke="#1a1a1a" stroke-width="0.85"/>
<rect x="120.30" y="754.51" width="33.90" height="20.71" fill="#eeb6bd" stroke="#1a1a1a" stroke-width="0.85"/>
<rect x="154.20" y="754.51" width="33.90" height="20.71" fill="#f1c6cc" stroke="#1a1a1a" stroke-width="0.85"/>
<rect x="188.10" y="754.51" width="33.90" height="20.71" fill="#ffffff" stroke="#1a1a1a" stroke-width="0.85"/>
<rect x="222.00" y="754.51" width="33.90" height="20.71" fill="#ffffff" stroke="#1a1a1a" stroke-width="0.85"/>
<text x="77.50" y="791.20" font-size="14.6" text-anchor="end" font-weight="normal" fill="#111">EIF3A</text>
<rect x="86.40" y="775.22" width="33.90" height="20.71" fill="#ffffff" stroke="#1a1a1a" stroke-width="0.85"/>
<rect x="120.30" y="775.22" width="33.90" height="20.71" fill="#f2cbd0" stroke="#1a1a1a" stroke-width="0.85"/>
<rect x="154.20" y="775.22" width="33.90" height="20.71" fill="#f0c3c9" stroke="#1a1a1a" stroke-width="0.85"/>
<rect x="188.10" y="775.22" width="33.90" height="20.71" fill="#ffffff" stroke="#1a1a1a" stroke-width="0.85"/>
<rect x="222.00" y="775.22" width="33.90" height="20.71" fill="#ffffff" stroke="#1a1a1a" stroke-width="0.85"/>
<text x="77.50" y="811.91" font-size="14.6" text-anchor="end" font-weight="normal" fill="#111">SF3B2</text>
<rect x="86.40" y="795.93" width="33.90" height="20.71" fill="#ffffff" stroke="#1a1a1a" stroke-width="0.85"/>
<rect x="120.30" y="795.93" width="33.90" height="20.71" fill="#e9a3ab" stroke="#1a1a1a" stroke-width="0.85"/>
<rect x="154.20" y="795.93" width="33.90" height="20.71" fill="#ecafb6" stroke="#1a1a1a" stroke-width="0.85"/>
<rect x="188.10" y="795.93" width="33.90" height="20.71" fill="#ffffff" stroke="#1a1a1a" stroke-width="0.85"/>
<rect x="222.00" y="795.93" width="33.90" height="20.71" fill="#ffffff" stroke="#1a1a1a" stroke-width="0.85"/>
<text x="77.50" y="832.62" font-size="14.6" text-anchor="end" font-weight="normal" fill="#111">QARS</text>
<rect x="86.40" y="816.64" width="33.90" height="20.71" fill="#ffffff" stroke="#1a1a1a" stroke-width="0.85"/>
<rect x="120.30" y="816.64" width="33.90" height="20.71" fill="#f0bfc5" stroke="#1a1a1a" stroke-width="0.85"/>
<rect x="154.20" y="816.64" width="33.90" height="20.71" fill="#ecadb5" stroke="#1a1a1a" stroke-width="0.85"/>
<rect x="188.10" y="816.64" width="33.90" height="20.71" fill="#ffffff" stroke="#1a1a1a" stroke-width="0.85"/>
<rect x="222.00" y="816.64" width="33.90" height="20.71" fill="#ffffff" stroke="#1a1a1a" stroke-width="0.85"/>
<text x="77.50" y="853.33" font-size="14.6" text-anchor="end" font-weight="normal" fill="#111">ACLY</text>
<rect x="86.40" y="837.35" width="33.90" height="20.71" fill="#ffffff" stroke="#1a1a1a" stroke-width="0.85"/>
<rect x="120.30" y="837.35" width="33.90" height="20.71" fill="#f2c8cd" stroke="#1a1a1a" stroke-width="0.85"/>
<rect x="154.20" y="837.35" width="33.90" height="20.71" fill="#ebaab2" stroke="#1a1a1a" stroke-width="0.85"/>
<rect x="188.10" y="837.35" width="33.90" height="20.71" fill="#ffffff" stroke="#1a1a1a" stroke-width="0.85"/>
<rect x="222.00" y="837.35" width="33.90" height="20.71" fill="#ffffff" stroke="#1a1a1a" stroke-width="0.85"/>
<text x="77.50" y="874.04" font-size="14.6" text-anchor="end" font-weight="normal" fill="#111">EIF2AK2</text>
<rect x="86.40" y="858.06" width="33.90" height="20.71" fill="#dc6675" stroke="#1a1a1a" stroke-width="0.85"/>
<rect x="120.30" y="858.06" width="33.90" height="20.71" fill="#e0808c" stroke="#1a1a1a" stroke-width="0.85"/>
<rect x="154.20" y="858.06" width="33.90" height="20.71" fill="#dd6e7c" stroke="#1a1a1a" stroke-width="0.85"/>
<rect x="188.10" y="858.06" width="33.90" height="20.71" fill="#ffffff" stroke="#1a1a1a" stroke-width="0.85"/>
<rect x="222.00" y="858.06" width="33.90" height="20.71" fill="#ffffff" stroke="#1a1a1a" stroke-width="0.85"/>
<text x="77.50" y="894.75" font-size="14.6" text-anchor="end" font-weight="normal" fill="#111">NUP155</text>
<rect x="86.40" y="878.77" width="33.90" height="20.71" fill="#dc6272" stroke="#1a1a1a" stroke-width="0.85"/>
<rect x="120.30" y="878.77" width="33.90" height="20.71" fill="#ffffff" stroke="#1a1a1a" stroke-width="0.85"/>
<rect x="154.20" y="878.77" width="33.90" height="20.71" fill="#efbcc2" stroke="#1a1a1a" stroke-width="0.85"/>
<rect x="188.10" y="878.77" width="33.90" height="20.71" fill="#ffffff" stroke="#1a1a1a" stroke-width="0.85"/>
<rect x="222.00" y="878.77" width="33.90" height="20.71" fill="#ffffff" stroke="#1a1a1a" stroke-width="0.85"/>
<text x="77.50" y="915.46" font-size="14.6" text-anchor="end" font-weight="normal" fill="#111">NAP1L1</text>
<rect x="86.40" y="899.48" width="33.90" height="20.71" fill="#de6b7a" stroke="#1a1a1a" stroke-width="0.85"/>
<rect x="120.30" y="899.48" width="33.90" height="20.71" fill="#ffffff" stroke="#1a1a1a" stroke-width="0.85"/>
<rect x="154.20" y="899.48" width="33.90" height="20.71" fill="#ebaab2" stroke="#1a1a1a" stroke-width="0.85"/>
<rect x="188.10" y="899.48" width="33.90" height="20.71" fill="#ffffff" stroke="#1a1a1a" stroke-width="0.85"/>
<rect x="222.00" y="899.48" width="33.90" height="20.71" fill="#ffffff" stroke="#1a1a1a" stroke-width="0.85"/>
<text x="77.50" y="936.17" font-size="14.6" text-anchor="end" font-weight="normal" fill="#111">VBP1</text>
<rect x="86.40" y="920.19" width="33.90" height="20.71" fill="#e9a0a8" stroke="#1a1a1a" stroke-width="0.85"/>
<rect x="120.30" y="920.19" width="33.90" height="20.71" fill="#ffffff" stroke="#1a1a1a" stroke-width="0.85"/>
<rect x="154.20" y="920.19" width="33.90" height="20.71" fill="#e8a0a8" stroke="#1a1a1a" stroke-width="0.85"/>
<rect x="188.10" y="920.19" width="33.90" height="20.71" fill="#ffffff" stroke="#1a1a1a" stroke-width="0.85"/>
<rect x="222.00" y="920.19" width="33.90" height="20.71" fill="#ffffff" stroke="#1a1a1a" stroke-width="0.85"/>
<text x="77.50" y="956.88" font-size="14.6" text-anchor="end" font-weight="normal" fill="#111">CAV1</text>
<rect x="86.40" y="940.90" width="33.90" height="20.71" fill="#dc6675" stroke="#1a1a1a" stroke-width="0.85"/>
<rect x="120.30" y="940.90" width="33.90" height="20.71" fill="#ffffff" stroke="#1a1a1a" stroke-width="0.85"/>
<rect x="154.20" y="940.90" width="33.90" height="20.71" fill="#e38c96" stroke="#1a1a1a" stroke-width="0.85"/>
<rect x="188.10" y="940.90" width="33.90" height="20.71" fill="#ffffff" stroke="#1a1a1a" stroke-width="0.85"/>
<rect x="222.00" y="940.90" width="33.90" height="20.71" fill="#ffffff" stroke="#1a1a1a" stroke-width="0.85"/>
<text x="77.50" y="977.59" font-size="14.6" text-anchor="end" font-weight="normal" fill="#111">PSMD11</text>
<rect x="86.40" y="961.61" width="33.90" height="20.71" fill="#ffffff" stroke="#1a1a1a" stroke-width="0.85"/>
<rect x="120.30" y="961.61" width="33.90" height="20.71" fill="#f2ccd0" stroke="#1a1a1a" stroke-width="0.85"/>
<rect x="154.20" y="961.61" width="33.90" height="20.71" fill="#f0c3c9" stroke="#1a1a1a" stroke-width="0.85"/>
<rect x="188.10" y="961.61" width="33.90" height="20.71" fill="#ffffff" stroke="#1a1a1a" stroke-width="0.85"/>
<rect x="222.00" y="961.61" width="33.90" height="20.71" fill="#e0808c" stroke="#1a1a1a" stroke-width="0.85"/>
<text x="77.50" y="998.30" font-size="14.6" text-anchor="end" font-weight="normal" fill="#111">DDX1</text>
<rect x="86.40" y="982.32" width="33.90" height="20.71" fill="#ffffff" stroke="#1a1a1a" stroke-width="0.85"/>
<rect x="120.30" y="982.32" width="33.90" height="20.71" fill="#ecaeb5" stroke="#1a1a1a" stroke-width="0.85"/>
<rect x="154.20" y="982.32" width="33.90" height="20.71" fill="#ffffff" stroke="#1a1a1a" stroke-width="0.85"/>
<rect x="188.10" y="982.32" width="33.90" height="20.71" fill="#ffffff" stroke="#1a1a1a" stroke-width="0.85"/>
<rect x="222.00" y="982.32" width="33.90" height="20.71" fill="#be0a1b" stroke="#1a1a1a" stroke-width="0.85"/>
<text x="113.65" y="515.00" font-size="15.5" text-anchor="start" font-weight="normal" fill="#111" transform="rotate(-45 113.65 515.00)">Primary tumor - Malignant</text>
<text x="147.55" y="515.00" font-size="15.5" text-anchor="start" font-weight="normal" fill="#111" transform="rotate(-45 147.55 515.00)">Primary tumor - Non-malignant</text>
<text x="181.45" y="515.00" font-size="15.5" text-anchor="start" font-weight="normal" fill="#111" transform="rotate(-45 181.45 515.00)">Lymph node - Non-malignant</text>
<text x="215.35" y="515.00" font-size="15.5" text-anchor="start" font-weight="normal" fill="#111" transform="rotate(-45 215.35 515.00)">Buffy coat</text>
<text x="249.25" y="515.00" font-size="15.5" text-anchor="start" font-weight="normal" fill="#111" transform="rotate(-45 249.25 515.00)">Saliva</text>
<line x1="275.30" y1="531.50" x2="275.30" y2="603.50" stroke="#777" stroke-width="1.1"/>
<line x1="275.30" y1="617.00" x2="275.30" y2="994.50" stroke="#777" stroke-width="1.1"/>
<text x="289.80" y="577.00" font-size="14.4" text-anchor="start" font-weight="normal" fill="#222" transform="rotate(-45 289.80 577.00)">Downregulated in pN+</text>
<text x="301.20" y="588.30" font-size="13" text-anchor="start" font-weight="normal" fill="#222" transform="rotate(-45 301.20 588.30)">(pN+ vs. pN0)</text>
<text x="290.30" y="812.40" font-size="14.4" text-anchor="start" font-weight="normal" fill="#222" transform="rotate(-45 290.30 812.40)">Upregulated in pN+</text>
<text x="301.60" y="823.70" font-size="13" text-anchor="start" font-weight="normal" fill="#222" transform="rotate(-45 301.60 823.70)">(pN+ vs. pN0)</text>
<text x="310.40" y="900.61" font-size="15.4" text-anchor="start" font-weight="normal" fill="#111">Ratio (log2)</text>
<text x="310.40" y="915.40" font-size="12.3" text-anchor="start" font-weight="normal" fill="#111">pN+ vs. pN0</text>
<rect x="310.20" y="937.30" width="16.60" height="70.10" fill="url(#gratio)"/>
<text x="333.00" y="948.15" font-size="13.0" text-anchor="start" font-weight="normal" fill="#111">-1.5822</text>
<text x="333.00" y="978.24" font-size="13.25" text-anchor="start" font-weight="normal" fill="#111">Not detected</text>
<text x="333.00" y="1007.15" font-size="13.0" text-anchor="start" font-weight="normal" fill="#111">1.4993</text>
<text x="487.00" y="468.00" font-size="30.5" text-anchor="start" font-weight="bold" fill="#000" stroke="#000" stroke-width="0.5">d</text>
<ellipse cx="629.7" cy="632.5" rx="199" ry="152.5" fill="#f1ecf6"/>
<ellipse cx="635" cy="872.5" rx="137.5" ry="96.9" fill="#ccd5e8" fill-opacity="0.47" transform="rotate(12 635 872.5)"/>
<text x="617.00" y="470.55" font-size="15.5" text-anchor="middle" font-weight="normal" fill="#111">Immune system</text>
<text x="484.50" y="797.55" font-size="15.5" text-anchor="start" font-weight="normal" fill="#111">Metabolism</text>
<line x1="546.00" y1="519.00" x2="704.00" y2="516.00" stroke="#a7a2ad" stroke-width="1.8" stroke-opacity="0.85"/>
<line x1="546.00" y1="519.00" x2="630.80" y2="546.50" stroke="#a7a2ad" stroke-width="1.5" stroke-opacity="0.85"/>
<line x1="546.00" y1="519.00" x2="507.00" y2="563.70" stroke="#a7a2ad" stroke-width="2.0" stroke-opacity="0.85"/>
<line x1="546.00" y1="519.00" x2="624.70" y2="581.60" stroke="#a7a2ad" stroke-width="1.3" stroke-opacity="0.85"/>
<line x1="546.00" y1="519.00" x2="712.00" y2="603.00" stroke="#a7a2ad" stroke-width="1.3" stroke-opacity="0.85"/>
<line x1="546.00" y1="519.00" x2="572.00" y2="616.30" stroke="#a7a2ad" stroke-width="3.0" stroke-opacity="0.85"/>
<line x1="546.00" y1="519.00" x2="718.60" y2="638.20" stroke="#a7a2ad" stroke-width="3.0" stroke-opacity="0.85"/>
<line x1="546.00" y1="519.00" x2="537.60" y2="651.80" stroke="#a7a2ad" stroke-width="1.3" stroke-opacity="0.85"/>
<line x1="546.00" y1="519.00" x2="744.00" y2="673.30" stroke="#a7a2ad" stroke-width="3.0" stroke-opacity="0.85"/>
<line x1="546.00" y1="519.00" x2="577.70" y2="680.00" stroke="#a7a2ad" stroke-width="3.0" stroke-opacity="0.85"/>
<line x1="546.00" y1="519.00" x2="731.80" y2="711.30" stroke="#a7a2ad" stroke-width="1.8" stroke-opacity="0.85"/>
<line x1="546.00" y1="519.00" x2="590.60" y2="722.00" stroke="#a7a2ad" stroke-width="3.0" stroke-opacity="0.85"/>
<line x1="704.00" y1="516.00" x2="630.80" y2="546.50" stroke="#a7a2ad" stroke-width="1.3" stroke-opacity="0.85"/>
<line x1="704.00" y1="516.00" x2="624.70" y2="581.60" stroke="#a7a2ad" stroke-width="1.5" stroke-opacity="0.85"/>
<line x1="704.00" y1="516.00" x2="712.00" y2="603.00" stroke="#a7a2ad" stroke-width="3.0" stroke-opacity="0.85"/>
<line x1="704.00" y1="516.00" x2="572.00" y2="616.30" stroke="#a7a2ad" stroke-width="1.3" stroke-opacity="0.85"/>
<line x1="704.00" y1="516.00" x2="718.60" y2="638.20" stroke="#a7a2ad" stroke-width="3.0" stroke-opacity="0.85"/>
<line x1="704.00" y1="516.00" x2="537.60" y2="651.80" stroke="#a7a2ad" stroke-width="1.3" stroke-opacity="0.85"/>
<line x1="704.00" y1="516.00" x2="744.00" y2="673.30" stroke="#a7a2ad" stroke-width="2.0" stroke-opacity="0.85"/>
<line x1="704.00" y1="516.00" x2="577.70" y2="680.00" stroke="#a7a2ad" stroke-width="2.0" stroke-opacity="0.85"/>
<line x1="704.00" y1="516.00" x2="731.80" y2="711.30" stroke="#a7a2ad" stroke-width="1.3" stroke-opacity="0.85"/>
<line x1="704.00" y1="516.00" x2="590.60" y2="722.00" stroke="#a7a2ad" stroke-width="1.5" stroke-opacity="0.85"/>
<line x1="630.80" y1="546.50" x2="507.00" y2="563.70" stroke="#a7a2ad" stroke-width="1.3" stroke-opacity="0.85"/>
<line x1="630.80" y1="546.50" x2="624.70" y2="581.60" stroke="#a7a2ad" stroke-width="3.0" stroke-opacity="0.85"/>
<line x1="630.80" y1="546.50" x2="712.00" y2="603.00" stroke="#a7a2ad" stroke-width="2.0" stroke-opacity="0.85"/>
<line x1="630.80" y1="546.50" x2="572.00" y2="616.30" stroke="#a7a2ad" stroke-width="3.0" stroke-opacity="0.85"/>
<line x1="630.80" y1="546.50" x2="718.60" y2="638.20" stroke="#a7a2ad" stroke-width="1.3" stroke-opacity="0.85"/>
<line x1="630.80" y1="546.50" x2="537.60" y2="651.80" stroke="#a7a2ad" stroke-width="1.3" stroke-opacity="0.85"/>
<line x1="630.80" y1="546.50" x2="744.00" y2="673.30" stroke="#a7a2ad" stroke-width="3.0" stroke-opacity="0.85"/>
<line x1="630.80" y1="546.50" x2="577.70" y2="680.00" stroke="#a7a2ad" stroke-width="1.5" stroke-opacity="0.85"/>
<line x1="630.80" y1="546.50" x2="731.80" y2="711.30" stroke="#a7a2ad" stroke-width="1.3" stroke-opacity="0.85"/>
<line x1="630.80" y1="546.50" x2="590.60" y2="722.00" stroke="#a7a2ad" stroke-width="3.0" stroke-opacity="0.85"/>
<line x1="507.00" y1="563.70" x2="624.70" y2="581.60" stroke="#a7a2ad" stroke-width="2.0" stroke-opacity="0.85"/>
<line x1="507.00" y1="563.70" x2="712.00" y2="603.00" stroke="#a7a2ad" stroke-width="3.0" stroke-opacity="0.85"/>
<line x1="507.00" y1="563.70" x2="572.00" y2="616.30" stroke="#a7a2ad" stroke-width="1.3" stroke-opacity="0.85"/>
<line x1="507.00" y1="563.70" x2="718.60" y2="638.20" stroke="#a7a2ad" stroke-width="3.0" stroke-opacity="0.85"/>
<line x1="507.00" y1="563.70" x2="537.60" y2="651.80" stroke="#a7a2ad" stroke-width="1.5" stroke-opacity="0.85"/>
<line x1="507.00" y1="563.70" x2="744.00" y2="673.30" stroke="#a7a2ad" stroke-width="1.3" stroke-opacity="0.85"/>
<line x1="507.00" y1="563.70" x2="577.70" y2="680.00" stroke="#a7a2ad" stroke-width="1.5" stroke-opacity="0.85"/>
<line x1="507.00" y1="563.70" x2="590.60" y2="722.00" stroke="#a7a2ad" stroke-width="1.8" stroke-opacity="0.85"/>
<line x1="624.70" y1="581.60" x2="712.00" y2="603.00" stroke="#a7a2ad" stroke-width="2.0" stroke-opacity="0.85"/>
<line x1="624.70" y1="581.60" x2="572.00" y2="616.30" stroke="#a7a2ad" stroke-width="3.0" stroke-opacity="0.85"/>
<line x1="624.70" y1="581.60" x2="718.60" y2="638.20" stroke="#a7a2ad" stroke-width="1.5" stroke-opacity="0.85"/>
<line x1="624.70" y1="581.60" x2="537.60" y2="651.80" stroke="#a7a2ad" stroke-width="1.3" stroke-opacity="0.85"/>
<line x1="624.70" y1="581.60" x2="744.00" y2="673.30" stroke="#a7a2ad" stroke-width="3.0" stroke-opacity="0.85"/>
<line x1="624.70" y1="581.60" x2="577.70" y2="680.00" stroke="#a7a2ad" stroke-width="1.8" stroke-opacity="0.85"/>
<line x1="624.70" y1="581.60" x2="731.80" y2="711.30" stroke="#a7a2ad" stroke-width="1.5" stroke-opacity="0.85"/>
<line x1="624.70" y1="581.60" x2="590.60" y2="722.00" stroke="#a7a2ad" stroke-width="3.0" stroke-opacity="0.85"/>
<line x1="712.00" y1="603.00" x2="572.00" y2="616.30" stroke="#a7a2ad" stroke-width="1.3" stroke-opacity="0.85"/>
<line x1="712.00" y1="603.00" x2="718.60" y2="638.20" stroke="#a7a2ad" stroke-width="3.0" stroke-opacity="0.85"/>
<line x1="712.00" y1="603.00" x2="537.60" y2="651.80" stroke="#a7a2ad" stroke-width="1.5" stroke-opacity="0.85"/>
<line x1="712.00" y1="603.00" x2="744.00" y2="673.30" stroke="#a7a2ad" stroke-width="1.8" stroke-opacity="0.85"/>
<line x1="712.00" y1="603.00" x2="577.70" y2="680.00" stroke="#a7a2ad" stroke-width="1.3" stroke-opacity="0.85"/>
<line x1="712.00" y1="603.00" x2="731.80" y2="711.30" stroke="#a7a2ad" stroke-width="1.3" stroke-opacity="0.85"/>
<line x1="712.00" y1="603.00" x2="590.60" y2="722.00" stroke="#a7a2ad" stroke-width="1.3" stroke-opacity="0.85"/>
<line x1="572.00" y1="616.30" x2="718.60" y2="638.20" stroke="#a7a2ad" stroke-width="1.5" stroke-opacity="0.85"/>
<line x1="572.00" y1="616.30" x2="537.60" y2="651.80" stroke="#a7a2ad" stroke-width="2.0" stroke-opacity="0.85"/>
<line x1="572.00" y1="616.30" x2="744.00" y2="673.30" stroke="#a7a2ad" stroke-width="2.0" stroke-opacity="0.85"/>
<line x1="572.00" y1="616.30" x2="577.70" y2="680.00" stroke="#a7a2ad" stroke-width="1.8" stroke-opacity="0.85"/>
<line x1="572.00" y1="616.30" x2="731.80" y2="711.30" stroke="#a7a2ad" stroke-width="2.0" stroke-opacity="0.85"/>
<line x1="572.00" y1="616.30" x2="590.60" y2="722.00" stroke="#a7a2ad" stroke-width="3.0" stroke-opacity="0.85"/>
<line x1="718.60" y1="638.20" x2="537.60" y2="651.80" stroke="#a7a2ad" stroke-width="2.0" stroke-opacity="0.85"/>
<line x1="718.60" y1="638.20" x2="744.00" y2="673.30" stroke="#a7a2ad" stroke-width="3.0" stroke-opacity="0.85"/>
<line x1="718.60" y1="638.20" x2="577.70" y2="680.00" stroke="#a7a2ad" stroke-width="1.8" stroke-opacity="0.85"/>
<line x1="718.60" y1="638.20" x2="731.80" y2="711.30" stroke="#a7a2ad" stroke-width="1.8" stroke-opacity="0.85"/>
<line x1="718.60" y1="638.20" x2="590.60" y2="722.00" stroke="#a7a2ad" stroke-width="1.5" stroke-opacity="0.85"/>
<line x1="537.60" y1="651.80" x2="744.00" y2="673.30" stroke="#a7a2ad" stroke-width="1.5" stroke-opacity="0.85"/>
<line x1="537.60" y1="651.80" x2="577.70" y2="680.00" stroke="#a7a2ad" stroke-width="3.0" stroke-opacity="0.85"/>
<line x1="537.60" y1="651.80" x2="590.60" y2="722.00" stroke="#a7a2ad" stroke-width="1.5" stroke-opacity="0.85"/>
<line x1="744.00" y1="673.30" x2="577.70" y2="680.00" stroke="#a7a2ad" stroke-width="1.3" stroke-opacity="0.85"/>
<line x1="744.00" y1="673.30" x2="731.80" y2="711.30" stroke="#a7a2ad" stroke-width="1.8" stroke-opacity="0.85"/>
<line x1="744.00" y1="673.30" x2="590.60" y2="722.00" stroke="#a7a2ad" stroke-width="2.0" stroke-opacity="0.85"/>
<line x1="577.70" y1="680.00" x2="731.80" y2="711.30" stroke="#a7a2ad" stroke-width="1.8" stroke-opacity="0.85"/>
<line x1="577.70" y1="680.00" x2="590.60" y2="722.00" stroke="#a7a2ad" stroke-width="3.0" stroke-opacity="0.85"/>
<line x1="731.80" y1="711.30" x2="590.60" y2="722.00" stroke="#a7a2ad" stroke-width="2.0" stroke-opacity="0.85"/>
<circle cx="546.00" cy="519.00" r="4.30" fill="#7de25c" fill-opacity="1"/>
<circle cx="704.00" cy="516.00" r="4.30" fill="#7de25c" fill-opacity="1"/>
<circle cx="630.80" cy="546.50" r="4.30" fill="#7de25c" fill-opacity="1"/>
<circle cx="507.00" cy="563.70" r="4.30" fill="#7de25c" fill-opacity="1"/>
<circle cx="624.70" cy="581.60" r="4.30" fill="#7de25c" fill-opacity="1"/>
<circle cx="712.00" cy="603.00" r="4.30" fill="#7de25c" fill-opacity="0.75"/>
<circle cx="572.00" cy="616.30" r="4.30" fill="#7de25c" fill-opacity="1"/>
<circle cx="718.60" cy="638.20" r="4.30" fill="#7de25c" fill-opacity="1"/>
<circle cx="537.60" cy="651.80" r="4.30" fill="#7de25c" fill-opacity="1"/>
<circle cx="744.00" cy="673.30" r="4.30" fill="#7de25c" fill-opacity="1"/>
<circle cx="577.70" cy="680.00" r="4.30" fill="#7de25c" fill-opacity="0.55"/>
<circle cx="731.80" cy="711.30" r="4.30" fill="#7de25c" fill-opacity="0.8"/>
<circle cx="590.60" cy="722.00" r="4.30" fill="#7de25c" fill-opacity="0.6"/>
<text x="544.80" y="535.76" font-size="8" text-anchor="middle" font-weight="normal" fill="#2a2a2a">Granulocyte activation</text>
<text x="702.80" y="532.76" font-size="8" text-anchor="middle" font-weight="normal" fill="#2a2a2a">Leukocyte mediated immunity</text>
<text x="629.60" y="563.26" font-size="8" text-anchor="middle" font-weight="normal" fill="#2a2a2a">Neutrophil activation</text>
<text x="505.80" y="580.46" font-size="8" text-anchor="middle" font-weight="normal" fill="#2a2a2a">Neutrophil degranulation</text>
<text x="623.50" y="598.36" font-size="8" text-anchor="middle" font-weight="normal" fill="#2a2a2a">Leukocyte degranulation</text>
<text x="710.80" y="619.76" font-size="8" text-anchor="middle" font-weight="normal" fill="#2a2a2a">Myeloid leukocyte activation</text>
<text x="570.80" y="633.06" font-size="8" text-anchor="middle" font-weight="normal" fill="#2a2a2a">Neutrophil activation involved in immune response</text>
<text x="717.40" y="654.96" font-size="8" text-anchor="middle" font-weight="normal" fill="#2a2a2a">Myeloid cell activation involved in immune response</text>
<text x="536.40" y="668.56" font-size="8" text-anchor="middle" font-weight="normal" fill="#2a2a2a">Myeloid leukocyte mediated immunity</text>
<text x="742.80" y="690.06" font-size="8" text-anchor="middle" font-weight="normal" fill="#2a2a2a">Neutrophil mediated immunity</text>
<text x="576.50" y="696.76" font-size="8" text-anchor="middle" font-weight="normal" fill="#2a2a2a">Leukocyte activation involved in immune response</text>
<text x="730.60" y="728.06" font-size="8" text-anchor="middle" font-weight="normal" fill="#2a2a2a">Immune effector process</text>
<text x="589.40" y="738.76" font-size="8" text-anchor="middle" font-weight="normal" fill="#2a2a2a">Cell activation involved in immune response</text>
<line x1="655.10" y1="793.30" x2="581.30" y2="821.30" stroke="#9a9aa2" stroke-width="1.2"/>
<line x1="655.10" y1="793.30" x2="586.70" y2="870.00" stroke="#9a9aa2" stroke-width="2.0"/>
<line x1="655.10" y1="793.30" x2="688.10" y2="848.50" stroke="#9a9aa2" stroke-width="2.0"/>
<line x1="581.30" y1="821.30" x2="688.10" y2="848.50" stroke="#9a9aa2" stroke-width="1.2"/>
<line x1="581.30" y1="821.30" x2="586.70" y2="870.00" stroke="#9a9aa2" stroke-width="1.2"/>
<line x1="586.70" y1="870.00" x2="688.10" y2="848.50" stroke="#9a9aa2" stroke-width="2.0"/>
<line x1="586.70" y1="870.00" x2="684.50" y2="893.30" stroke="#cfd3dc" stroke-width="0.7"/>
<line x1="655.10" y1="793.30" x2="684.50" y2="893.30" stroke="#cfd3dc" stroke-width="0.7"/>
<line x1="688.10" y1="848.50" x2="684.50" y2="893.30" stroke="#cfd3dc" stroke-width="0.7"/>
<line x1="684.50" y1="893.30" x2="662.30" y2="930.60" stroke="#9a9aa2" stroke-width="2.0"/>
<circle cx="655.10" cy="793.30" r="4.30" fill="#7de25c" fill-opacity="0.35"/>
<circle cx="581.30" cy="821.30" r="4.30" fill="#7de25c" fill-opacity="1"/>
<circle cx="688.10" cy="848.50" r="4.30" fill="#7de25c" fill-opacity="0.4"/>
<circle cx="586.70" cy="870.00" r="4.30" fill="#7de25c" fill-opacity="0.7"/>
<circle cx="684.50" cy="893.30" r="4.30" fill="#7de25c" fill-opacity="1"/>
<circle cx="662.30" cy="930.60" r="4.30" fill="#7de25c" fill-opacity="1"/>
<text x="653.90" y="810.06" font-size="8" text-anchor="middle" font-weight="normal" fill="#2a2a2a">Oxoacid metabolic process</text>
<text x="580.10" y="838.06" font-size="8" text-anchor="middle" font-weight="normal" fill="#2a2a2a">Small molecule metabolic process</text>
<text x="686.90" y="865.26" font-size="8" text-anchor="middle" font-weight="normal" fill="#2a2a2a">Organic acid metabolic process</text>
<text x="585.50" y="886.76" font-size="8" text-anchor="middle" font-weight="normal" fill="#2a2a2a">Carboxylic acid metabolic process</text>
<text x="683.30" y="910.06" font-size="8" text-anchor="middle" font-weight="normal" fill="#2a2a2a">Cellular amide metabolic process</text>
<text x="661.10" y="947.36" font-size="8" text-anchor="middle" font-weight="normal" fill="#2a2a2a">Peptide metabolic process</text>
<text x="848.00" y="787.00" font-size="30.5" text-anchor="start" font-weight="bold" fill="#000" stroke="#000" stroke-width="0.5">f</text>
<line x1="961.00" y1="780.50" x2="961.00" y2="954.60" stroke="#333" stroke-width="1.2"/>
<line x1="960.50" y1="954.60" x2="1163.00" y2="954.60" stroke="#333" stroke-width="1.2"/>
<line x1="954.40" y1="954.60" x2="961.00" y2="954.60" stroke="#333" stroke-width="1.2"/>
<text x="953.50" y="960.81" font-size="16.5" text-anchor="end" font-weight="normal" fill="#111">0</text>
<line x1="954.40" y1="896.73" x2="961.00" y2="896.73" stroke="#333" stroke-width="1.2"/>
<text x="953.50" y="902.94" font-size="16.5" text-anchor="end" font-weight="normal" fill="#111">6000</text>
<line x1="954.40" y1="838.87" x2="961.00" y2="838.87" stroke="#333" stroke-width="1.2"/>
<text x="953.50" y="845.07" font-size="16.5" text-anchor="end" font-weight="normal" fill="#111">12000</text>
<line x1="954.40" y1="781.00" x2="961.00" y2="781.00" stroke="#333" stroke-width="1.2"/>
<text x="953.50" y="787.21" font-size="16.5" text-anchor="end" font-weight="normal" fill="#111">18000</text>
<text x="896.00" y="868.00" font-size="17.8" text-anchor="middle" font-weight="normal" fill="#111" transform="rotate(-90 896.00 868.00)">Cell count per mm</text>
<text x="888.00" y="793.30" font-size="11.5" text-anchor="middle" font-weight="normal" fill="#111" transform="rotate(-90 888.00 793.30)">3</text>
<line x1="979.20" y1="859.50" x2="979.20" y2="880.20" stroke="#444" stroke-width="1"/>
<line x1="974.20" y1="859.50" x2="984.20" y2="859.50" stroke="#444" stroke-width="1"/>
<rect x="969.90" y="880.20" width="18.60" height="74.40" fill="#c47e7e" stroke="#4a3a4a" stroke-width="0.9"/>
<line x1="1000.65" y1="795.60" x2="1000.65" y2="854.40" stroke="#444" stroke-width="1"/>
<line x1="995.65" y1="795.60" x2="1005.65" y2="795.60" stroke="#444" stroke-width="1"/>
<rect x="991.50" y="854.40" width="18.30" height="100.20" fill="#8080ff" stroke="#4a3a4a" stroke-width="0.9"/>
<line x1="1027.35" y1="933.30" x2="1027.35" y2="941.40" stroke="#444" stroke-width="1"/>
<line x1="1022.35" y1="933.30" x2="1032.35" y2="933.30" stroke="#444" stroke-width="1"/>
<rect x="1018.20" y="941.40" width="18.30" height="13.20" fill="#c47e7e" stroke="#4a3a4a" stroke-width="0.9"/>
<line x1="1048.35" y1="926.40" x2="1048.35" y2="934.20" stroke="#444" stroke-width="1"/>
<line x1="1043.35" y1="926.40" x2="1053.35" y2="926.40" stroke="#444" stroke-width="1"/>
<rect x="1039.20" y="934.20" width="18.30" height="20.40" fill="#8080ff" stroke="#4a3a4a" stroke-width="0.9"/>
<line x1="1074.90" y1="947.70" x2="1074.90" y2="950.10" stroke="#444" stroke-width="1"/>
<line x1="1069.90" y1="947.70" x2="1079.90" y2="947.70" stroke="#444" stroke-width="1"/>
<rect x="1065.60" y="950.10" width="18.60" height="4.50" fill="#c47e7e" stroke="#4a3a4a" stroke-width="0.9"/>
<line x1="1096.05" y1="946.50" x2="1096.05" y2="948.90" stroke="#444" stroke-width="1"/>
<line x1="1091.05" y1="946.50" x2="1101.05" y2="946.50" stroke="#444" stroke-width="1"/>
<rect x="1086.60" y="948.90" width="18.90" height="5.70" fill="#8080ff" stroke="#4a3a4a" stroke-width="0.9"/>
<line x1="1122.90" y1="878.40" x2="1122.90" y2="901.20" stroke="#444" stroke-width="1"/>
<line x1="1117.90" y1="878.40" x2="1127.90" y2="878.40" stroke="#444" stroke-width="1"/>
<rect x="1113.60" y="901.20" width="18.60" height="53.40" fill="#c47e7e" stroke="#4a3a4a" stroke-width="0.9"/>
<line x1="1144.05" y1="823.20" x2="1144.05" y2="884.10" stroke="#444" stroke-width="1"/>
<line x1="1139.05" y1="823.20" x2="1149.05" y2="823.20" stroke="#444" stroke-width="1"/>
<rect x="1134.60" y="884.10" width="18.90" height="70.50" fill="#8080ff" stroke="#4a3a4a" stroke-width="0.9"/>
<line x1="1026.60" y1="910.20" x2="1046.40" y2="910.20" stroke="#333" stroke-width="1"/>
<text x="1036.00" y="909.87" font-size="15" text-anchor="middle" font-weight="bold" fill="#111">*</text>
<line x1="974.10" y1="961.20" x2="1005.60" y2="961.20" stroke="#888" stroke-width="1"/>
<line x1="974.10" y1="958.70" x2="974.10" y2="963.70" stroke="#888" stroke-width="1"/>
<line x1="1005.60" y1="958.70" x2="1005.60" y2="963.70" stroke="#888" stroke-width="1"/>
<line x1="1021.50" y1="961.20" x2="1053.30" y2="961.20" stroke="#888" stroke-width="1"/>
<line x1="1021.50" y1="958.70" x2="1021.50" y2="963.70" stroke="#888" stroke-width="1"/>
<line x1="1053.30" y1="958.70" x2="1053.30" y2="963.70" stroke="#888" stroke-width="1"/>
<line x1="1069.50" y1="961.20" x2="1100.70" y2="961.20" stroke="#888" stroke-width="1"/>
<line x1="1069.50" y1="958.70" x2="1069.50" y2="963.70" stroke="#888" stroke-width="1"/>
<line x1="1100.70" y1="958.70" x2="1100.70" y2="963.70" stroke="#888" stroke-width="1"/>
<line x1="1118.40" y1="961.20" x2="1149.90" y2="961.20" stroke="#888" stroke-width="1"/>
<line x1="1118.40" y1="958.70" x2="1118.40" y2="963.70" stroke="#888" stroke-width="1"/>
<line x1="1149.90" y1="958.70" x2="1149.90" y2="963.70" stroke="#888" stroke-width="1"/>
<text x="994.60" y="970.00" font-size="15.3" text-anchor="end" font-weight="normal" fill="#111" transform="rotate(-90 994.60 970.00)">Leukocytes</text>
<text x="1043.50" y="970.00" font-size="15.3" text-anchor="end" font-weight="normal" fill="#111" transform="rotate(-90 1043.50 970.00)">Lymphocytes</text>
<text x="1090.00" y="970.00" font-size="15.3" text-anchor="end" font-weight="normal" fill="#111" transform="rotate(-90 1090.00 970.00)">Monocytes</text>
<text x="1139.50" y="970.00" font-size="15.3" text-anchor="end" font-weight="normal" fill="#111" transform="rotate(-90 1139.50 970.00)">Neutrophils</text>
<rect x="1036.20" y="778.00" width="16.20" height="13.40" fill="#c47e7e" stroke="#4a3a3a" stroke-width="0.9"/>
<text x="1061.40" y="791.01" font-size="16.8" text-anchor="start" font-weight="normal" fill="#111">pN+</text>
<rect x="1104.00" y="778.00" width="16.40" height="13.40" fill="#8080ff" stroke="#3a3a5a" stroke-width="0.9"/>
<text x="1128.90" y="791.01" font-size="16.8" text-anchor="start" font-weight="normal" fill="#111">pN0</text>
<text x="-1.00" y="1081.00" font-size="30.5" text-anchor="start" font-weight="bold" fill="#000" stroke="#000" stroke-width="0.5">e</text>
<text x="124.00" y="1081.44" font-size="16.6" text-anchor="start" font-weight="normal" fill="#111">Cluster markers - Lymph node microenvironment</text>
<line x1="126.00" y1="1089.50" x2="126.00" y2="1284.60" stroke="#333" stroke-width="1.2"/>
<line x1="125.40" y1="1284.00" x2="1047.50" y2="1284.00" stroke="#333" stroke-width="1.2"/>
<line x1="123.00" y1="1100.30" x2="126.00" y2="1100.30" stroke="#333" stroke-width="1"/>
<text x="121.00" y="1104.45" font-size="11.6" text-anchor="end" font-weight="bold" fill="#4d4d4d">Mast</text>
<line x1="123.00" y1="1119.41" x2="126.00" y2="1119.41" stroke="#333" stroke-width="1"/>
<text x="121.00" y="1123.56" font-size="11.6" text-anchor="end" font-weight="bold" fill="#4d4d4d">Endothelial</text>
<line x1="123.00" y1="1138.52" x2="126.00" y2="1138.52" stroke="#333" stroke-width="1"/>
<text x="121.00" y="1142.67" font-size="11.6" text-anchor="end" font-weight="bold" fill="#4d4d4d">Macrophage</text>
<line x1="123.00" y1="1157.63" x2="126.00" y2="1157.63" stroke="#333" stroke-width="1"/>
<text x="121.00" y="1161.78" font-size="11.6" text-anchor="end" font-weight="bold" fill="#4d4d4d">Dendritic</text>
<line x1="123.00" y1="1176.74" x2="126.00" y2="1176.74" stroke="#333" stroke-width="1"/>
<text x="121.00" y="1180.89" font-size="11.6" text-anchor="end" font-weight="bold" fill="#4d4d4d">B cell</text>
<line x1="123.00" y1="1195.85" x2="126.00" y2="1195.85" stroke="#333" stroke-width="1"/>
<text x="121.00" y="1200.00" font-size="11.6" text-anchor="end" font-weight="bold" fill="#4d4d4d">Plasma cell</text>
<line x1="123.00" y1="1214.96" x2="126.00" y2="1214.96" stroke="#333" stroke-width="1"/>
<text x="121.00" y="1219.11" font-size="11.6" text-anchor="end" font-weight="bold" fill="#4d4d4d">CD8+ T eff</text>
<line x1="123.00" y1="1234.07" x2="126.00" y2="1234.07" stroke="#333" stroke-width="1"/>
<text x="121.00" y="1238.22" font-size="11.6" text-anchor="end" font-weight="bold" fill="#4d4d4d">CD4+ T conv</text>
<line x1="123.00" y1="1253.18" x2="126.00" y2="1253.18" stroke="#333" stroke-width="1"/>
<text x="121.00" y="1257.33" font-size="11.6" text-anchor="end" font-weight="bold" fill="#4d4d4d">CAF</text>
<line x1="123.00" y1="1272.29" x2="126.00" y2="1272.29" stroke="#333" stroke-width="1"/>
<text x="121.00" y="1276.44" font-size="11.6" text-anchor="end" font-weight="bold" fill="#4d4d4d">Myofibroblast</text>
<line x1="134.70" y1="1284.00" x2="134.70" y2="1287.00" stroke="#333" stroke-width="1"/>
<text x="138.70" y="1294.00" font-size="11.5" text-anchor="end" font-weight="bold" fill="#4d4d4d" transform="rotate(-45 138.70 1294.00)">ACTA2</text>
<line x1="149.28" y1="1284.00" x2="149.28" y2="1287.00" stroke="#333" stroke-width="1"/>
<text x="153.28" y="1294.00" font-size="11.5" text-anchor="end" font-weight="bold" fill="#4d4d4d" transform="rotate(-45 153.28 1294.00)">ALDOA</text>
<line x1="163.87" y1="1284.00" x2="163.87" y2="1287.00" stroke="#333" stroke-width="1"/>
<text x="167.87" y="1294.00" font-size="11.5" text-anchor="end" font-weight="bold" fill="#4d4d4d" transform="rotate(-45 167.87 1294.00)">AOC3</text>
<line x1="178.45" y1="1284.00" x2="178.45" y2="1287.00" stroke="#333" stroke-width="1"/>
<text x="182.45" y="1294.00" font-size="11.5" text-anchor="end" font-weight="bold" fill="#4d4d4d" transform="rotate(-45 182.45 1294.00)">ARHGAP25</text>
<line x1="193.04" y1="1284.00" x2="193.04" y2="1287.00" stroke="#333" stroke-width="1"/>
<text x="197.04" y="1294.00" font-size="11.5" text-anchor="end" font-weight="bold" fill="#4d4d4d" transform="rotate(-45 197.04 1294.00)">ATP2A3</text>
<line x1="207.62" y1="1284.00" x2="207.62" y2="1287.00" stroke="#333" stroke-width="1"/>
<text x="211.62" y="1294.00" font-size="11.5" text-anchor="end" font-weight="bold" fill="#4d4d4d" transform="rotate(-45 211.62 1294.00)">CAV1</text>
<line x1="222.21" y1="1284.00" x2="222.21" y2="1287.00" stroke="#333" stroke-width="1"/>
<text x="226.21" y="1294.00" font-size="11.5" text-anchor="end" font-weight="bold" fill="#4d4d4d" transform="rotate(-45 226.21 1294.00)">COL4A2</text>
<line x1="236.79" y1="1284.00" x2="236.79" y2="1287.00" stroke="#333" stroke-width="1"/>
<text x="240.79" y="1294.00" font-size="11.5" text-anchor="end" font-weight="bold" fill="#4d4d4d" transform="rotate(-45 240.79 1294.00)">COPE</text>
<line x1="251.38" y1="1284.00" x2="251.38" y2="1287.00" stroke="#333" stroke-width="1"/>
<text x="255.38" y="1294.00" font-size="11.5" text-anchor="end" font-weight="bold" fill="#4d4d4d" transform="rotate(-45 255.38 1294.00)">CTSG</text>
<line x1="265.97" y1="1284.00" x2="265.97" y2="1287.00" stroke="#333" stroke-width="1"/>
<text x="269.97" y="1294.00" font-size="11.5" text-anchor="end" font-weight="bold" fill="#4d4d4d" transform="rotate(-45 269.97 1294.00)">DES</text>
<line x1="280.55" y1="1284.00" x2="280.55" y2="1287.00" stroke="#333" stroke-width="1"/>
<text x="284.55" y="1294.00" font-size="11.5" text-anchor="end" font-weight="bold" fill="#4d4d4d" transform="rotate(-45 284.55 1294.00)">FBN1</text>
<line x1="295.13" y1="1284.00" x2="295.13" y2="1287.00" stroke="#333" stroke-width="1"/>
<text x="299.13" y="1294.00" font-size="11.5" text-anchor="end" font-weight="bold" fill="#4d4d4d" transform="rotate(-45 299.13 1294.00)">FHL1</text>
<line x1="309.72" y1="1284.00" x2="309.72" y2="1287.00" stroke="#333" stroke-width="1"/>
<text x="313.72" y="1294.00" font-size="11.5" text-anchor="end" font-weight="bold" fill="#4d4d4d" transform="rotate(-45 313.72 1294.00)">FYB</text>
<line x1="324.31" y1="1284.00" x2="324.31" y2="1287.00" stroke="#333" stroke-width="1"/>
<text x="328.31" y="1294.00" font-size="11.5" text-anchor="end" font-weight="bold" fill="#4d4d4d" transform="rotate(-45 328.31 1294.00)">GPSM3</text>
<line x1="338.89" y1="1284.00" x2="338.89" y2="1287.00" stroke="#333" stroke-width="1"/>
<text x="342.89" y="1294.00" font-size="11.5" text-anchor="end" font-weight="bold" fill="#4d4d4d" transform="rotate(-45 342.89 1294.00)">HBD</text>
<line x1="353.48" y1="1284.00" x2="353.48" y2="1287.00" stroke="#333" stroke-width="1"/>
<text x="357.48" y="1294.00" font-size="11.5" text-anchor="end" font-weight="bold" fill="#4d4d4d" transform="rotate(-45 357.48 1294.00)">HCLS1</text>
<line x1="368.06" y1="1284.00" x2="368.06" y2="1287.00" stroke="#333" stroke-width="1"/>
<text x="372.06" y="1294.00" font-size="11.5" text-anchor="end" font-weight="bold" fill="#4d4d4d" transform="rotate(-45 372.06 1294.00)">HLA-A</text>
<line x1="382.64" y1="1284.00" x2="382.64" y2="1287.00" stroke="#333" stroke-width="1"/>
<text x="386.64" y="1294.00" font-size="11.5" text-anchor="end" font-weight="bold" fill="#4d4d4d" transform="rotate(-45 386.64 1294.00)">HLA-C</text>
<line x1="397.23" y1="1284.00" x2="397.23" y2="1287.00" stroke="#333" stroke-width="1"/>
<text x="401.23" y="1294.00" font-size="11.5" text-anchor="end" font-weight="bold" fill="#4d4d4d" transform="rotate(-45 401.23 1294.00)">HMGB1</text>
<line x1="411.81" y1="1284.00" x2="411.81" y2="1287.00" stroke="#333" stroke-width="1"/>
<text x="415.81" y="1294.00" font-size="11.5" text-anchor="end" font-weight="bold" fill="#4d4d4d" transform="rotate(-45 415.81 1294.00)">HSP90AB1</text>
<line x1="426.40" y1="1284.00" x2="426.40" y2="1287.00" stroke="#333" stroke-width="1"/>
<text x="430.40" y="1294.00" font-size="11.5" text-anchor="end" font-weight="bold" fill="#4d4d4d" transform="rotate(-45 430.40 1294.00)">HSPA8</text>
<line x1="440.99" y1="1284.00" x2="440.99" y2="1287.00" stroke="#333" stroke-width="1"/>
<text x="444.99" y="1294.00" font-size="11.5" text-anchor="end" font-weight="bold" fill="#4d4d4d" transform="rotate(-45 444.99 1294.00)">IL4I1</text>
<line x1="455.57" y1="1284.00" x2="455.57" y2="1287.00" stroke="#333" stroke-width="1"/>
<text x="459.57" y="1294.00" font-size="11.5" text-anchor="end" font-weight="bold" fill="#4d4d4d" transform="rotate(-45 459.57 1294.00)">ISG20</text>
<line x1="470.16" y1="1284.00" x2="470.16" y2="1287.00" stroke="#333" stroke-width="1"/>
<text x="474.16" y="1294.00" font-size="11.5" text-anchor="end" font-weight="bold" fill="#4d4d4d" transform="rotate(-45 474.16 1294.00)">ITGB2</text>
<line x1="484.74" y1="1284.00" x2="484.74" y2="1287.00" stroke="#333" stroke-width="1"/>
<text x="488.74" y="1294.00" font-size="11.5" text-anchor="end" font-weight="bold" fill="#4d4d4d" transform="rotate(-45 488.74 1294.00)">KCTD12</text>
<line x1="499.32" y1="1284.00" x2="499.32" y2="1287.00" stroke="#333" stroke-width="1"/>
<text x="503.32" y="1294.00" font-size="11.5" text-anchor="end" font-weight="bold" fill="#4d4d4d" transform="rotate(-45 503.32 1294.00)">LAMA5</text>
<line x1="513.91" y1="1284.00" x2="513.91" y2="1287.00" stroke="#333" stroke-width="1"/>
<text x="517.91" y="1294.00" font-size="11.5" text-anchor="end" font-weight="bold" fill="#4d4d4d" transform="rotate(-45 517.91 1294.00)">LAMB2</text>
<line x1="528.50" y1="1284.00" x2="528.50" y2="1287.00" stroke="#333" stroke-width="1"/>
<text x="532.50" y="1294.00" font-size="11.5" text-anchor="end" font-weight="bold" fill="#4d4d4d" transform="rotate(-45 532.50 1294.00)">LAMC1</text>
<line x1="543.08" y1="1284.00" x2="543.08" y2="1287.00" stroke="#333" stroke-width="1"/>
<text x="547.08" y="1294.00" font-size="11.5" text-anchor="end" font-weight="bold" fill="#4d4d4d" transform="rotate(-45 547.08 1294.00)">LDHA</text>
<line x1="557.66" y1="1284.00" x2="557.66" y2="1287.00" stroke="#333" stroke-width="1"/>
<text x="561.66" y="1294.00" font-size="11.5" text-anchor="end" font-weight="bold" fill="#4d4d4d" transform="rotate(-45 561.66 1294.00)">LRMP</text>
<line x1="572.25" y1="1284.00" x2="572.25" y2="1287.00" stroke="#333" stroke-width="1"/>
<text x="576.25" y="1294.00" font-size="11.5" text-anchor="end" font-weight="bold" fill="#4d4d4d" transform="rotate(-45 576.25 1294.00)">LYZ</text>
<line x1="586.84" y1="1284.00" x2="586.84" y2="1287.00" stroke="#333" stroke-width="1"/>
<text x="590.84" y="1294.00" font-size="11.5" text-anchor="end" font-weight="bold" fill="#4d4d4d" transform="rotate(-45 590.84 1294.00)">MAPK3</text>
<line x1="601.42" y1="1284.00" x2="601.42" y2="1287.00" stroke="#333" stroke-width="1"/>
<text x="605.42" y="1294.00" font-size="11.5" text-anchor="end" font-weight="bold" fill="#4d4d4d" transform="rotate(-45 605.42 1294.00)">METTL7A</text>
<line x1="616.00" y1="1284.00" x2="616.00" y2="1287.00" stroke="#333" stroke-width="1"/>
<text x="620.00" y="1294.00" font-size="11.5" text-anchor="end" font-weight="bold" fill="#4d4d4d" transform="rotate(-45 620.00 1294.00)">MMP2</text>
<line x1="630.59" y1="1284.00" x2="630.59" y2="1287.00" stroke="#333" stroke-width="1"/>
<text x="634.59" y="1294.00" font-size="11.5" text-anchor="end" font-weight="bold" fill="#4d4d4d" transform="rotate(-45 634.59 1294.00)">MS4A1</text>
<line x1="645.17" y1="1284.00" x2="645.17" y2="1287.00" stroke="#333" stroke-width="1"/>
<text x="649.17" y="1294.00" font-size="11.5" text-anchor="end" font-weight="bold" fill="#4d4d4d" transform="rotate(-45 649.17 1294.00)">MYH11</text>
<line x1="659.76" y1="1284.00" x2="659.76" y2="1287.00" stroke="#333" stroke-width="1"/>
<text x="663.76" y="1294.00" font-size="11.5" text-anchor="end" font-weight="bold" fill="#4d4d4d" transform="rotate(-45 663.76 1294.00)">MYL9</text>
<line x1="674.35" y1="1284.00" x2="674.35" y2="1287.00" stroke="#333" stroke-width="1"/>
<text x="678.35" y="1294.00" font-size="11.5" text-anchor="end" font-weight="bold" fill="#4d4d4d" transform="rotate(-45 678.35 1294.00)">NCKAP1L</text>
<line x1="688.93" y1="1284.00" x2="688.93" y2="1287.00" stroke="#333" stroke-width="1"/>
<text x="692.93" y="1294.00" font-size="11.5" text-anchor="end" font-weight="bold" fill="#4d4d4d" transform="rotate(-45 692.93 1294.00)">RASAL3</text>
<line x1="703.52" y1="1284.00" x2="703.52" y2="1287.00" stroke="#333" stroke-width="1"/>
<text x="707.52" y="1294.00" font-size="11.5" text-anchor="end" font-weight="bold" fill="#4d4d4d" transform="rotate(-45 707.52 1294.00)">RPL23A</text>
<line x1="718.10" y1="1284.00" x2="718.10" y2="1287.00" stroke="#333" stroke-width="1"/>
<text x="722.10" y="1294.00" font-size="11.5" text-anchor="end" font-weight="bold" fill="#4d4d4d" transform="rotate(-45 722.10 1294.00)">RPL28</text>
<line x1="732.68" y1="1284.00" x2="732.68" y2="1287.00" stroke="#333" stroke-width="1"/>
<text x="736.68" y="1294.00" font-size="11.5" text-anchor="end" font-weight="bold" fill="#4d4d4d" transform="rotate(-45 736.68 1294.00)">RPS11</text>
<line x1="747.27" y1="1284.00" x2="747.27" y2="1287.00" stroke="#333" stroke-width="1"/>
<text x="751.27" y="1294.00" font-size="11.5" text-anchor="end" font-weight="bold" fill="#4d4d4d" transform="rotate(-45 751.27 1294.00)">RPS28</text>
<line x1="761.86" y1="1284.00" x2="761.86" y2="1287.00" stroke="#333" stroke-width="1"/>
<text x="765.86" y="1294.00" font-size="11.5" text-anchor="end" font-weight="bold" fill="#4d4d4d" transform="rotate(-45 765.86 1294.00)">RPS3A</text>
<line x1="776.44" y1="1284.00" x2="776.44" y2="1287.00" stroke="#333" stroke-width="1"/>
<text x="780.44" y="1294.00" font-size="11.5" text-anchor="end" font-weight="bold" fill="#4d4d4d" transform="rotate(-45 780.44 1294.00)">SELENBP1</text>
<line x1="791.03" y1="1284.00" x2="791.03" y2="1287.00" stroke="#333" stroke-width="1"/>
<text x="795.03" y="1294.00" font-size="11.5" text-anchor="end" font-weight="bold" fill="#4d4d4d" transform="rotate(-45 795.03 1294.00)">SERPING1</text>
<line x1="805.61" y1="1284.00" x2="805.61" y2="1287.00" stroke="#333" stroke-width="1"/>
<text x="809.61" y="1294.00" font-size="11.5" text-anchor="end" font-weight="bold" fill="#4d4d4d" transform="rotate(-45 809.61 1294.00)">SERPINH1</text>
<line x1="820.19" y1="1284.00" x2="820.19" y2="1287.00" stroke="#333" stroke-width="1"/>
<text x="824.19" y="1294.00" font-size="11.5" text-anchor="end" font-weight="bold" fill="#4d4d4d" transform="rotate(-45 824.19 1294.00)">SH3KBP1</text>
<line x1="834.78" y1="1284.00" x2="834.78" y2="1287.00" stroke="#333" stroke-width="1"/>
<text x="838.78" y="1294.00" font-size="11.5" text-anchor="end" font-weight="bold" fill="#4d4d4d" transform="rotate(-45 838.78 1294.00)">SNRPN</text>
<line x1="849.37" y1="1284.00" x2="849.37" y2="1287.00" stroke="#333" stroke-width="1"/>
<text x="853.37" y="1294.00" font-size="11.5" text-anchor="end" font-weight="bold" fill="#4d4d4d" transform="rotate(-45 853.37 1294.00)">SOD2</text>
<line x1="863.95" y1="1284.00" x2="863.95" y2="1287.00" stroke="#333" stroke-width="1"/>
<text x="867.95" y="1294.00" font-size="11.5" text-anchor="end" font-weight="bold" fill="#4d4d4d" transform="rotate(-45 867.95 1294.00)">SON</text>
<line x1="878.54" y1="1284.00" x2="878.54" y2="1287.00" stroke="#333" stroke-width="1"/>
<text x="882.54" y="1294.00" font-size="11.5" text-anchor="end" font-weight="bold" fill="#4d4d4d" transform="rotate(-45 882.54 1294.00)">SRSF2</text>
<line x1="893.12" y1="1284.00" x2="893.12" y2="1287.00" stroke="#333" stroke-width="1"/>
<text x="897.12" y="1294.00" font-size="11.5" text-anchor="end" font-weight="bold" fill="#4d4d4d" transform="rotate(-45 897.12 1294.00)">SRSF3</text>
<line x1="907.70" y1="1284.00" x2="907.70" y2="1287.00" stroke="#333" stroke-width="1"/>
<text x="911.70" y="1294.00" font-size="11.5" text-anchor="end" font-weight="bold" fill="#4d4d4d" transform="rotate(-45 911.70 1294.00)">SRSF5</text>
<line x1="922.29" y1="1284.00" x2="922.29" y2="1287.00" stroke="#333" stroke-width="1"/>
<text x="926.29" y="1294.00" font-size="11.5" text-anchor="end" font-weight="bold" fill="#4d4d4d" transform="rotate(-45 926.29 1294.00)">SSR1</text>
<line x1="936.88" y1="1284.00" x2="936.88" y2="1287.00" stroke="#333" stroke-width="1"/>
<text x="940.88" y="1294.00" font-size="11.5" text-anchor="end" font-weight="bold" fill="#4d4d4d" transform="rotate(-45 940.88 1294.00)">STAT1</text>
<line x1="951.46" y1="1284.00" x2="951.46" y2="1287.00" stroke="#333" stroke-width="1"/>
<text x="955.46" y="1294.00" font-size="11.5" text-anchor="end" font-weight="bold" fill="#4d4d4d" transform="rotate(-45 955.46 1294.00)">SUB1</text>
<line x1="966.05" y1="1284.00" x2="966.05" y2="1287.00" stroke="#333" stroke-width="1"/>
<text x="970.05" y="1294.00" font-size="11.5" text-anchor="end" font-weight="bold" fill="#4d4d4d" transform="rotate(-45 970.05 1294.00)">TNS3</text>
<line x1="980.63" y1="1284.00" x2="980.63" y2="1287.00" stroke="#333" stroke-width="1"/>
<text x="984.63" y="1294.00" font-size="11.5" text-anchor="end" font-weight="bold" fill="#4d4d4d" transform="rotate(-45 984.63 1294.00)">TNXB</text>
<line x1="995.22" y1="1284.00" x2="995.22" y2="1287.00" stroke="#333" stroke-width="1"/>
<text x="999.22" y="1294.00" font-size="11.5" text-anchor="end" font-weight="bold" fill="#4d4d4d" transform="rotate(-45 999.22 1294.00)">TOM1</text>
<line x1="1009.80" y1="1284.00" x2="1009.80" y2="1287.00" stroke="#333" stroke-width="1"/>
<text x="1013.80" y="1294.00" font-size="11.5" text-anchor="end" font-weight="bold" fill="#4d4d4d" transform="rotate(-45 1013.80 1294.00)">TRA2A</text>
<line x1="1024.38" y1="1284.00" x2="1024.38" y2="1287.00" stroke="#333" stroke-width="1"/>
<text x="1028.38" y="1294.00" font-size="11.5" text-anchor="end" font-weight="bold" fill="#4d4d4d" transform="rotate(-45 1028.38 1294.00)">VCL</text>
<line x1="1038.97" y1="1284.00" x2="1038.97" y2="1287.00" stroke="#333" stroke-width="1"/>
<text x="1042.97" y="1294.00" font-size="11.5" text-anchor="end" font-weight="bold" fill="#4d4d4d" transform="rotate(-45 1042.97 1294.00)">WAS</text>
<circle cx="134.70" cy="1253.18" r="5.90" fill="#4a28f0"/>
<circle cx="134.70" cy="1272.29" r="6.50" fill="#4428f0"/>
<circle cx="149.28" cy="1272.29" r="6.30" fill="#fdd5c8"/>
<circle cx="163.87" cy="1272.29" r="5.60" fill="#8a5cf0"/>
<circle cx="178.45" cy="1100.30" r="5.60" fill="#fdcfc0"/>
<circle cx="193.04" cy="1176.74" r="5.00" fill="#fdd5c8"/>
<circle cx="193.04" cy="1195.85" r="4.80" fill="#fdd5c8"/>
<circle cx="207.62" cy="1272.29" r="6.00" fill="#fdc8b8"/>
<circle cx="222.21" cy="1119.41" r="6.00" fill="#ccb4f8"/>
<circle cx="222.21" cy="1253.18" r="6.50" fill="#ccb4f8"/>
<circle cx="222.21" cy="1272.29" r="6.30" fill="#c8aef8"/>
<circle cx="236.79" cy="1195.85" r="6.00" fill="#fddcd0"/>
<circle cx="251.38" cy="1100.30" r="5.80" fill="#ac84f4"/>
<circle cx="265.97" cy="1272.29" r="2.90" fill="#0000ff"/>
<circle cx="280.55" cy="1253.18" r="5.60" fill="#c4a0f6"/>
<circle cx="295.13" cy="1272.29" r="5.30" fill="#dccaf9"/>
<circle cx="309.72" cy="1234.07" r="5.80" fill="#fcc4b2"/>
<circle cx="324.31" cy="1138.52" r="6.50" fill="#fdd0c2"/>
<circle cx="324.31" cy="1234.07" r="3.70" fill="#fcc8b8"/>
<circle cx="338.89" cy="1100.30" r="1.60" fill="#b48cf5"/>
<circle cx="353.48" cy="1138.52" r="6.50" fill="#fde0d5"/>
<circle cx="353.48" cy="1176.74" r="5.60" fill="#fddcd0"/>
<circle cx="353.48" cy="1195.85" r="4.80" fill="#fddcd0"/>
<circle cx="353.48" cy="1234.07" r="4.80" fill="#fddcd0"/>
<circle cx="368.06" cy="1195.85" r="6.70" fill="#fdd3c5"/>
<circle cx="368.06" cy="1234.07" r="6.70" fill="#fdd3c5"/>
<circle cx="368.06" cy="1253.18" r="6.70" fill="#fdd5c8"/>
<circle cx="368.06" cy="1272.29" r="6.70" fill="#fdd5c8"/>
<circle cx="382.64" cy="1195.85" r="6.70" fill="#fddcd0"/>
<circle cx="382.64" cy="1234.07" r="6.70" fill="#fddcd0"/>
<circle cx="382.64" cy="1253.18" r="6.70" fill="#fddcd0"/>
<circle cx="382.64" cy="1272.29" r="6.70" fill="#fddcd0"/>
<circle cx="397.23" cy="1272.29" r="6.50" fill="#dfcdfa"/>
<circle cx="411.81" cy="1272.29" r="6.50" fill="#fde0d5"/>
<circle cx="426.40" cy="1195.85" r="6.40" fill="#fde6de"/>
<circle cx="426.40" cy="1234.07" r="6.40" fill="#fde6de"/>
<circle cx="426.40" cy="1272.29" r="6.40" fill="#fde3da"/>
<circle cx="440.99" cy="1138.52" r="5.60" fill="#fcb8a2"/>
<circle cx="455.57" cy="1195.85" r="6.40" fill="#fccbbb"/>
<circle cx="470.16" cy="1138.52" r="6.90" fill="#fde3da"/>
<circle cx="470.16" cy="1176.74" r="5.90" fill="#fde0d6"/>
<circle cx="470.16" cy="1214.96" r="6.10" fill="#fde0d6"/>
<circle cx="470.16" cy="1234.07" r="4.50" fill="#fde0d6"/>
<circle cx="484.74" cy="1119.41" r="4.80" fill="#e8dafb"/>
<circle cx="499.32" cy="1272.29" r="5.30" fill="#c09cf6"/>
<circle cx="513.91" cy="1253.18" r="6.10" fill="#9868f3"/>
<circle cx="513.91" cy="1272.29" r="6.10" fill="#9868f3"/>
<circle cx="528.50" cy="1253.18" r="5.60" fill="#d0b8f8"/>
<circle cx="528.50" cy="1272.29" r="4.80" fill="#d4bef8"/>
<circle cx="543.08" cy="1272.29" r="6.70" fill="#fde0d6"/>
<circle cx="557.66" cy="1138.52" r="5.60" fill="#fdccbc"/>
<circle cx="557.66" cy="1195.85" r="3.70" fill="#fdc8b8"/>
<circle cx="572.25" cy="1234.07" r="6.70" fill="#decdfa"/>
<circle cx="586.84" cy="1119.41" r="4.50" fill="#fde0d6"/>
<circle cx="601.42" cy="1195.85" r="5.90" fill="#e4d4fb"/>
<circle cx="616.00" cy="1253.18" r="5.10" fill="#8c58f2"/>
<circle cx="630.59" cy="1176.74" r="5.60" fill="#fcb8a2"/>
<circle cx="645.17" cy="1272.29" r="6.10" fill="#8c58f2"/>
<circle cx="659.76" cy="1253.18" r="6.10" fill="#d0b8f8"/>
<circle cx="659.76" cy="1272.29" r="6.70" fill="#d0b8f8"/>
<circle cx="674.35" cy="1100.30" r="3.70" fill="#fdd0c2"/>
<circle cx="674.35" cy="1138.52" r="4.00" fill="#fdd0c2"/>
<circle cx="674.35" cy="1157.63" r="5.00" fill="#fdd3c6"/>
<circle cx="674.35" cy="1195.85" r="2.40" fill="#fdc8b8"/>
<circle cx="688.93" cy="1119.41" r="2.90" fill="#fddcd0"/>
<circle cx="703.52" cy="1195.85" r="6.70" fill="#fde3da"/>
<circle cx="703.52" cy="1234.07" r="6.40" fill="#fde3da"/>
<circle cx="703.52" cy="1272.29" r="6.70" fill="#fde3da"/>
<circle cx="718.10" cy="1253.18" r="6.60" fill="#fdc3b0"/>
<circle cx="718.10" cy="1272.29" r="6.60" fill="#fdc3b0"/>
<circle cx="732.68" cy="1195.85" r="6.60" fill="#fdd3c6"/>
<circle cx="732.68" cy="1234.07" r="6.00" fill="#fdd5c8"/>
<circle cx="747.27" cy="1195.85" r="6.30" fill="#fddcd0"/>
<circle cx="747.27" cy="1253.18" r="6.60" fill="#fde0d6"/>
<circle cx="747.27" cy="1272.29" r="6.60" fill="#fde0d6"/>
<circle cx="761.86" cy="1195.85" r="6.30" fill="#fddcd0"/>
<circle cx="761.86" cy="1234.07" r="6.30" fill="#fddcd0"/>
<circle cx="761.86" cy="1272.29" r="6.60" fill="#fddcd0"/>
<circle cx="776.44" cy="1272.29" r="3.90" fill="#e4d4fb"/>
<circle cx="791.03" cy="1253.18" r="6.90" fill="#ccb4f8"/>
<circle cx="791.03" cy="1272.29" r="6.60" fill="#ccb4f8"/>
<circle cx="805.61" cy="1253.18" r="5.70" fill="#fcbca8"/>
<circle cx="820.19" cy="1195.85" r="4.80" fill="#fddcd0"/>
<circle cx="820.19" cy="1272.29" r="4.20" fill="#fddcd0"/>
<circle cx="834.78" cy="1195.85" r="5.10" fill="#e4d4fb"/>
<circle cx="849.37" cy="1253.18" r="6.60" fill="#dccaf9"/>
<circle cx="849.37" cy="1272.29" r="5.40" fill="#dccaf9"/>
<circle cx="863.95" cy="1234.07" r="6.00" fill="#fde3da"/>
<circle cx="878.54" cy="1195.85" r="6.30" fill="#ccb0f8"/>
<circle cx="893.12" cy="1272.29" r="6.60" fill="#b894f6"/>
<circle cx="907.70" cy="1272.29" r="6.30" fill="#a87ef5"/>
<circle cx="922.29" cy="1195.85" r="6.60" fill="#fdd0c2"/>
<circle cx="936.88" cy="1253.18" r="6.60" fill="#fdc3b0"/>
<circle cx="951.46" cy="1195.85" r="6.00" fill="#e8dafb"/>
<circle cx="966.05" cy="1253.18" r="5.10" fill="#e4d4fb"/>
<circle cx="966.05" cy="1272.29" r="4.50" fill="#e4d4fb"/>
<circle cx="980.63" cy="1119.41" r="4.50" fill="#a070f4"/>
<circle cx="995.22" cy="1253.18" r="5.10" fill="#fca58c"/>
<circle cx="1009.80" cy="1234.07" r="6.00" fill="#ccb4f8"/>
<circle cx="1024.38" cy="1272.29" r="5.70" fill="#e4d7fb"/>
<circle cx="1038.97" cy="1138.52" r="6.30" fill="#fddcd0"/>
<circle cx="1038.97" cy="1176.74" r="4.50" fill="#fddcd0"/>
<text x="125.70" y="1365.44" font-size="16.6" text-anchor="start" font-weight="normal" fill="#111">Cluster markers - Tumor microenvironment</text>
<line x1="126.20" y1="1374.00" x2="126.20" y2="1533.00" stroke="#333" stroke-width="1.2"/>
<line x1="125.60" y1="1532.40" x2="484.50" y2="1532.40" stroke="#333" stroke-width="1.2"/>
<line x1="123.20" y1="1389.00" x2="126.20" y2="1389.00" stroke="#333" stroke-width="1"/>
<text x="121.20" y="1393.15" font-size="11.6" text-anchor="end" font-weight="bold" fill="#4d4d4d">Myofibroblast</text>
<line x1="123.20" y1="1414.63" x2="126.20" y2="1414.63" stroke="#333" stroke-width="1"/>
<text x="121.20" y="1418.78" font-size="11.6" text-anchor="end" font-weight="bold" fill="#4d4d4d">Mast</text>
<line x1="123.20" y1="1440.26" x2="126.20" y2="1440.26" stroke="#333" stroke-width="1"/>
<text x="121.20" y="1444.41" font-size="11.6" text-anchor="end" font-weight="bold" fill="#4d4d4d">Endothelial</text>
<line x1="123.20" y1="1465.89" x2="126.20" y2="1465.89" stroke="#333" stroke-width="1"/>
<text x="121.20" y="1470.04" font-size="11.6" text-anchor="end" font-weight="bold" fill="#4d4d4d">Dendritic</text>
<line x1="123.20" y1="1491.52" x2="126.20" y2="1491.52" stroke="#333" stroke-width="1"/>
<text x="121.20" y="1495.67" font-size="11.6" text-anchor="end" font-weight="bold" fill="#4d4d4d">CD8+ T exh</text>
<line x1="123.20" y1="1517.15" x2="126.20" y2="1517.15" stroke="#333" stroke-width="1"/>
<text x="121.20" y="1521.30" font-size="11.6" text-anchor="end" font-weight="bold" fill="#4d4d4d">CAF</text>
<line x1="143.80" y1="1532.40" x2="143.80" y2="1535.40" stroke="#333" stroke-width="1"/>
<text x="147.80" y="1542.40" font-size="11.5" text-anchor="end" font-weight="bold" fill="#4d4d4d" transform="rotate(-45 147.80 1542.40)">AK3</text>
<line x1="173.15" y1="1532.40" x2="173.15" y2="1535.40" stroke="#333" stroke-width="1"/>
<text x="177.15" y="1542.40" font-size="11.5" text-anchor="end" font-weight="bold" fill="#4d4d4d" transform="rotate(-45 177.15 1542.40)">EDF1</text>
<line x1="202.50" y1="1532.40" x2="202.50" y2="1535.40" stroke="#333" stroke-width="1"/>
<text x="206.50" y="1542.40" font-size="11.5" text-anchor="end" font-weight="bold" fill="#4d4d4d" transform="rotate(-45 206.50 1542.40)">EIF2AK2</text>
<line x1="231.85" y1="1532.40" x2="231.85" y2="1535.40" stroke="#333" stroke-width="1"/>
<text x="235.85" y="1542.40" font-size="11.5" text-anchor="end" font-weight="bold" fill="#4d4d4d" transform="rotate(-45 235.85 1542.40)">ERLIN1</text>
<line x1="261.20" y1="1532.40" x2="261.20" y2="1535.40" stroke="#333" stroke-width="1"/>
<text x="265.20" y="1542.40" font-size="11.5" text-anchor="end" font-weight="bold" fill="#4d4d4d" transform="rotate(-45 265.20 1542.40)">FKBP9</text>
<line x1="290.55" y1="1532.40" x2="290.55" y2="1535.40" stroke="#333" stroke-width="1"/>
<text x="294.55" y="1542.40" font-size="11.5" text-anchor="end" font-weight="bold" fill="#4d4d4d" transform="rotate(-45 294.55 1542.40)">ICAM1</text>
<line x1="319.90" y1="1532.40" x2="319.90" y2="1535.40" stroke="#333" stroke-width="1"/>
<text x="323.90" y="1542.40" font-size="11.5" text-anchor="end" font-weight="bold" fill="#4d4d4d" transform="rotate(-45 323.90 1542.40)">IKBIP</text>
<line x1="349.25" y1="1532.40" x2="349.25" y2="1535.40" stroke="#333" stroke-width="1"/>
<text x="353.25" y="1542.40" font-size="11.5" text-anchor="end" font-weight="bold" fill="#4d4d4d" transform="rotate(-45 353.25 1542.40)">MT1M</text>
<line x1="378.60" y1="1532.40" x2="378.60" y2="1535.40" stroke="#333" stroke-width="1"/>
<text x="382.60" y="1542.40" font-size="11.5" text-anchor="end" font-weight="bold" fill="#4d4d4d" transform="rotate(-45 382.60 1542.40)">PHPT1</text>
<line x1="407.95" y1="1532.40" x2="407.95" y2="1535.40" stroke="#333" stroke-width="1"/>
<text x="411.95" y="1542.40" font-size="11.5" text-anchor="end" font-weight="bold" fill="#4d4d4d" transform="rotate(-45 411.95 1542.40)">STMN1</text>
<line x1="437.30" y1="1532.40" x2="437.30" y2="1535.40" stroke="#333" stroke-width="1"/>
<text x="441.30" y="1542.40" font-size="11.5" text-anchor="end" font-weight="bold" fill="#4d4d4d" transform="rotate(-45 441.30 1542.40)">UBXN1</text>
<line x1="466.65" y1="1532.40" x2="466.65" y2="1535.40" stroke="#333" stroke-width="1"/>
<text x="470.65" y="1542.40" font-size="11.5" text-anchor="end" font-weight="bold" fill="#4d4d4d" transform="rotate(-45 470.65 1542.40)">VAT1</text>
<circle cx="173.15" cy="1389.00" r="5.20" fill="#fddcd0"/>
<circle cx="202.50" cy="1389.00" r="4.30" fill="#fdc8b8"/>
<circle cx="378.60" cy="1389.00" r="3.90" fill="#fdc8b8"/>
<circle cx="407.95" cy="1389.00" r="3.00" fill="#fdd3c6"/>
<circle cx="437.30" cy="1389.00" r="5.20" fill="#fcb39c"/>
<circle cx="407.95" cy="1414.63" r="3.70" fill="#fdd5c8"/>
<circle cx="437.30" cy="1414.63" r="5.40" fill="#fcb39c"/>
<circle cx="261.20" cy="1440.26" r="7.10" fill="#fcbfac"/>
<circle cx="290.55" cy="1440.26" r="6.30" fill="#fde0d6"/>
<circle cx="261.20" cy="1465.89" r="6.10" fill="#fcbca8"/>
<circle cx="143.80" cy="1491.52" r="6.50" fill="#fdd5c8"/>
<circle cx="319.90" cy="1491.52" r="6.10" fill="#e8dafb"/>
<circle cx="231.85" cy="1517.15" r="1.70" fill="#fcc0ae"/>
<circle cx="261.20" cy="1517.15" r="7.10" fill="#fcbfac"/>
<circle cx="349.25" cy="1517.15" r="3.30" fill="#f0101a"/>
<circle cx="437.30" cy="1517.15" r="4.80" fill="#fcb39c"/>
<circle cx="466.65" cy="1517.15" r="5.60" fill="#dccaf9"/>
<text x="621.30" y="1365.44" font-size="16.6" text-anchor="start" font-weight="normal" fill="#111">Cluster markers - PBMC</text>
<line x1="623.80" y1="1373.00" x2="623.80" y2="1556.90" stroke="#333" stroke-width="1.2"/>
<line x1="623.20" y1="1556.30" x2="1125.50" y2="1556.30" stroke="#333" stroke-width="1.2"/>
<line x1="620.80" y1="1385.00" x2="623.80" y2="1385.00" stroke="#333" stroke-width="1"/>
<text x="618.80" y="1389.01" font-size="11.2" text-anchor="end" font-weight="bold" fill="#4d4d4d">Platelets</text>
<line x1="620.80" y1="1404.92" x2="623.80" y2="1404.92" stroke="#333" stroke-width="1"/>
<text x="618.80" y="1408.93" font-size="11.2" text-anchor="end" font-weight="bold" fill="#4d4d4d">DCs</text>
<line x1="620.80" y1="1424.84" x2="623.80" y2="1424.84" stroke="#333" stroke-width="1"/>
<text x="618.80" y="1428.85" font-size="11.2" text-anchor="end" font-weight="bold" fill="#4d4d4d">NK cells</text>
<line x1="620.80" y1="1444.76" x2="623.80" y2="1444.76" stroke="#333" stroke-width="1"/>
<text x="618.80" y="1448.77" font-size="11.2" text-anchor="end" font-weight="bold" fill="#4d4d4d">FCGR3A+ Monocytes</text>
<line x1="620.80" y1="1464.68" x2="623.80" y2="1464.68" stroke="#333" stroke-width="1"/>
<text x="618.80" y="1468.69" font-size="11.2" text-anchor="end" font-weight="bold" fill="#4d4d4d">CD8+ T cells</text>
<line x1="620.80" y1="1484.60" x2="623.80" y2="1484.60" stroke="#333" stroke-width="1"/>
<text x="618.80" y="1488.61" font-size="11.2" text-anchor="end" font-weight="bold" fill="#4d4d4d">B cells</text>
<line x1="620.80" y1="1504.52" x2="623.80" y2="1504.52" stroke="#333" stroke-width="1"/>
<text x="618.80" y="1508.53" font-size="11.2" text-anchor="end" font-weight="bold" fill="#4d4d4d">CD14+ Monocytes</text>
<line x1="620.80" y1="1524.44" x2="623.80" y2="1524.44" stroke="#333" stroke-width="1"/>
<text x="618.80" y="1528.45" font-size="11.2" text-anchor="end" font-weight="bold" fill="#4d4d4d">Memory CD4+ T cells</text>
<line x1="620.80" y1="1544.36" x2="623.80" y2="1544.36" stroke="#333" stroke-width="1"/>
<text x="618.80" y="1548.37" font-size="11.2" text-anchor="end" font-weight="bold" fill="#4d4d4d">Naive CD4+ T cells</text>
<line x1="634.80" y1="1556.30" x2="634.80" y2="1559.30" stroke="#333" stroke-width="1"/>
<text x="638.80" y="1566.30" font-size="11.2" text-anchor="end" font-weight="bold" fill="#4d4d4d" transform="rotate(-45 638.80 1566.30)">AHNAK</text>
<line x1="653.98" y1="1556.30" x2="653.98" y2="1559.30" stroke="#333" stroke-width="1"/>
<text x="657.98" y="1566.30" font-size="11.2" text-anchor="end" font-weight="bold" fill="#4d4d4d" transform="rotate(-45 657.98 1566.30)">ANXA1</text>
<line x1="673.16" y1="1556.30" x2="673.16" y2="1559.30" stroke="#333" stroke-width="1"/>
<text x="677.16" y="1566.30" font-size="11.2" text-anchor="end" font-weight="bold" fill="#4d4d4d" transform="rotate(-45 677.16 1566.30)">ANXA6</text>
<line x1="692.34" y1="1556.30" x2="692.34" y2="1559.30" stroke="#333" stroke-width="1"/>
<text x="696.34" y="1566.30" font-size="11.2" text-anchor="end" font-weight="bold" fill="#4d4d4d" transform="rotate(-45 696.34 1566.30)">AP2A1</text>
<line x1="711.52" y1="1556.30" x2="711.52" y2="1559.30" stroke="#333" stroke-width="1"/>
<text x="715.52" y="1566.30" font-size="11.2" text-anchor="end" font-weight="bold" fill="#4d4d4d" transform="rotate(-45 715.52 1566.30)">ARAP1</text>
<line x1="730.70" y1="1556.30" x2="730.70" y2="1559.30" stroke="#333" stroke-width="1"/>
<text x="734.70" y="1566.30" font-size="11.2" text-anchor="end" font-weight="bold" fill="#4d4d4d" transform="rotate(-45 734.70 1566.30)">CD74</text>
<line x1="749.88" y1="1556.30" x2="749.88" y2="1559.30" stroke="#333" stroke-width="1"/>
<text x="753.88" y="1566.30" font-size="11.2" text-anchor="end" font-weight="bold" fill="#4d4d4d" transform="rotate(-45 753.88 1566.30)">CUX1</text>
<line x1="769.06" y1="1556.30" x2="769.06" y2="1559.30" stroke="#333" stroke-width="1"/>
<text x="773.06" y="1566.30" font-size="11.2" text-anchor="end" font-weight="bold" fill="#4d4d4d" transform="rotate(-45 773.06 1566.30)">ERGIC1</text>
<line x1="788.24" y1="1556.30" x2="788.24" y2="1559.30" stroke="#333" stroke-width="1"/>
<text x="792.24" y="1566.30" font-size="11.2" text-anchor="end" font-weight="bold" fill="#4d4d4d" transform="rotate(-45 792.24 1566.30)">HLA-DQA1</text>
<line x1="807.42" y1="1556.30" x2="807.42" y2="1559.30" stroke="#333" stroke-width="1"/>
<text x="811.42" y="1566.30" font-size="11.2" text-anchor="end" font-weight="bold" fill="#4d4d4d" transform="rotate(-45 811.42 1566.30)">IQGAP1</text>
<line x1="826.60" y1="1556.30" x2="826.60" y2="1559.30" stroke="#333" stroke-width="1"/>
<text x="830.60" y="1566.30" font-size="11.2" text-anchor="end" font-weight="bold" fill="#4d4d4d" transform="rotate(-45 830.60 1566.30)">ITGAX</text>
<line x1="845.78" y1="1556.30" x2="845.78" y2="1559.30" stroke="#333" stroke-width="1"/>
<text x="849.78" y="1566.30" font-size="11.2" text-anchor="end" font-weight="bold" fill="#4d4d4d" transform="rotate(-45 849.78 1566.30)">LAMP1</text>
<line x1="864.96" y1="1556.30" x2="864.96" y2="1559.30" stroke="#333" stroke-width="1"/>
<text x="868.96" y="1566.30" font-size="11.2" text-anchor="end" font-weight="bold" fill="#4d4d4d" transform="rotate(-45 868.96 1566.30)">LYZ</text>
<line x1="884.14" y1="1556.30" x2="884.14" y2="1559.30" stroke="#333" stroke-width="1"/>
<text x="888.14" y="1566.30" font-size="11.2" text-anchor="end" font-weight="bold" fill="#4d4d4d" transform="rotate(-45 888.14 1566.30)">MTPN</text>
<line x1="903.32" y1="1556.30" x2="903.32" y2="1559.30" stroke="#333" stroke-width="1"/>
<text x="907.32" y="1566.30" font-size="11.2" text-anchor="end" font-weight="bold" fill="#4d4d4d" transform="rotate(-45 907.32 1566.30)">NDUFV2</text>
<line x1="922.50" y1="1556.30" x2="922.50" y2="1559.30" stroke="#333" stroke-width="1"/>
<text x="926.50" y="1566.30" font-size="11.2" text-anchor="end" font-weight="bold" fill="#4d4d4d" transform="rotate(-45 926.50 1566.30)">NRGN</text>
<line x1="941.68" y1="1556.30" x2="941.68" y2="1559.30" stroke="#333" stroke-width="1"/>
<text x="945.68" y="1566.30" font-size="11.2" text-anchor="end" font-weight="bold" fill="#4d4d4d" transform="rotate(-45 945.68 1566.30)">PDLIM5</text>
<line x1="960.86" y1="1556.30" x2="960.86" y2="1559.30" stroke="#333" stroke-width="1"/>
<text x="964.86" y="1566.30" font-size="11.2" text-anchor="end" font-weight="bold" fill="#4d4d4d" transform="rotate(-45 964.86 1566.30)">RPL7A</text>
<line x1="980.04" y1="1556.30" x2="980.04" y2="1559.30" stroke="#333" stroke-width="1"/>
<text x="984.04" y="1566.30" font-size="11.2" text-anchor="end" font-weight="bold" fill="#4d4d4d" transform="rotate(-45 984.04 1566.30)">RPS10</text>
<line x1="999.22" y1="1556.30" x2="999.22" y2="1559.30" stroke="#333" stroke-width="1"/>
<text x="1003.22" y="1566.30" font-size="11.2" text-anchor="end" font-weight="bold" fill="#4d4d4d" transform="rotate(-45 1003.22 1566.30)">S100A4</text>
<line x1="1018.40" y1="1556.30" x2="1018.40" y2="1559.30" stroke="#333" stroke-width="1"/>
<text x="1022.40" y="1566.30" font-size="11.2" text-anchor="end" font-weight="bold" fill="#4d4d4d" transform="rotate(-45 1022.40 1566.30)">S100A8</text>
<line x1="1037.58" y1="1556.30" x2="1037.58" y2="1559.30" stroke="#333" stroke-width="1"/>
<text x="1041.58" y="1566.30" font-size="11.2" text-anchor="end" font-weight="bold" fill="#4d4d4d" transform="rotate(-45 1041.58 1566.30)">SAMHD1</text>
<line x1="1056.76" y1="1556.30" x2="1056.76" y2="1559.30" stroke="#333" stroke-width="1"/>
<text x="1060.76" y="1566.30" font-size="11.2" text-anchor="end" font-weight="bold" fill="#4d4d4d" transform="rotate(-45 1060.76 1566.30)">SLC25A6</text>
<line x1="1075.94" y1="1556.30" x2="1075.94" y2="1559.30" stroke="#333" stroke-width="1"/>
<text x="1079.94" y="1566.30" font-size="11.2" text-anchor="end" font-weight="bold" fill="#4d4d4d" transform="rotate(-45 1079.94 1566.30)">SLC44A2</text>
<line x1="1095.12" y1="1556.30" x2="1095.12" y2="1559.30" stroke="#333" stroke-width="1"/>
<text x="1099.12" y="1566.30" font-size="11.2" text-anchor="end" font-weight="bold" fill="#4d4d4d" transform="rotate(-45 1099.12 1566.30)">SPN</text>
<line x1="1114.30" y1="1556.30" x2="1114.30" y2="1559.30" stroke="#333" stroke-width="1"/>
<text x="1118.30" y="1566.30" font-size="11.2" text-anchor="end" font-weight="bold" fill="#4d4d4d" transform="rotate(-45 1118.30 1566.30)">UBA52</text>
<circle cx="922.50" cy="1385.00" r="6.60" fill="#f09a80"/>
<circle cx="730.70" cy="1404.92" r="6.30" fill="#d2bcf9"/>
<circle cx="788.24" cy="1404.92" r="6.30" fill="#d2bcf9"/>
<circle cx="864.96" cy="1404.92" r="6.30" fill="#a884f5"/>
<circle cx="1037.58" cy="1404.92" r="6.30" fill="#d8c4fa"/>
<circle cx="1056.76" cy="1404.92" r="6.50" fill="#ee8a6c"/>
<circle cx="653.98" cy="1424.84" r="6.00" fill="#0020f0"/>
<circle cx="673.16" cy="1424.84" r="5.00" fill="#9070f3"/>
<circle cx="845.78" cy="1424.84" r="4.50" fill="#d0b8f8"/>
<circle cx="692.34" cy="1444.76" r="4.30" fill="#ee8468"/>
<circle cx="711.52" cy="1444.76" r="3.30" fill="#f09078"/>
<circle cx="749.88" cy="1444.76" r="4.30" fill="#d0b8f8"/>
<circle cx="769.06" cy="1444.76" r="2.80" fill="#c8aef8"/>
<circle cx="826.60" cy="1444.76" r="2.80" fill="#b090f5"/>
<circle cx="884.14" cy="1444.76" r="3.90" fill="#f5c0ae"/>
<circle cx="903.32" cy="1444.76" r="5.00" fill="#b090f5"/>
<circle cx="941.68" cy="1444.76" r="2.80" fill="#fad8d0"/>
<circle cx="999.22" cy="1444.76" r="6.80" fill="#d0b8f8"/>
<circle cx="1037.58" cy="1444.76" r="4.80" fill="#d8c4fa"/>
<circle cx="1056.76" cy="1444.76" r="6.50" fill="#ee8a6c"/>
<circle cx="1075.94" cy="1444.76" r="3.50" fill="#dccaf9"/>
<circle cx="1095.12" cy="1444.76" r="5.00" fill="#c0a4f7"/>
<circle cx="653.98" cy="1464.68" r="6.00" fill="#0020f0"/>
<circle cx="673.16" cy="1464.68" r="4.50" fill="#9070f3"/>
<circle cx="730.70" cy="1484.60" r="6.30" fill="#d2bcf9"/>
<circle cx="788.24" cy="1484.60" r="6.30" fill="#d2bcf9"/>
<circle cx="634.80" cy="1504.52" r="4.30" fill="#a07cf5"/>
<circle cx="711.52" cy="1504.52" r="1.50" fill="#f09078"/>
<circle cx="807.42" cy="1504.52" r="3.30" fill="#c8aef8"/>
<circle cx="864.96" cy="1504.52" r="6.50" fill="#a884f5"/>
<circle cx="922.50" cy="1504.52" r="1.80" fill="#ee8468"/>
<circle cx="999.22" cy="1504.52" r="6.80" fill="#d4bef9"/>
<circle cx="1018.40" cy="1504.52" r="6.50" fill="#8468f2"/>
<circle cx="1037.58" cy="1504.52" r="4.50" fill="#d8c4fa"/>
<circle cx="1056.76" cy="1504.52" r="6.30" fill="#ee8a6c"/>
<circle cx="1114.30" cy="1504.52" r="6.80" fill="#dccaf9"/>
<circle cx="960.86" cy="1524.44" r="6.50" fill="#7058f0"/>
<circle cx="980.04" cy="1524.44" r="6.50" fill="#3830f0"/>
<circle cx="653.98" cy="1544.36" r="6.00" fill="#0020f0"/>
<circle cx="980.04" cy="1544.36" r="6.50" fill="#3830f0"/>
<text x="1064.50" y="1106.07" font-size="13.6" text-anchor="start" font-weight="normal" fill="#111">scRNASeq</text>
<text x="1064.50" y="1122.47" font-size="13.6" text-anchor="start" font-weight="normal" fill="#111">Percent expressed</text>
<circle cx="1079.30" cy="1137.60" r="3.50" fill="#000"/>
<text x="1090.50" y="1142.50" font-size="13.7" text-anchor="start" font-weight="normal" fill="#111">0.25</text>
<circle cx="1079.30" cy="1154.30" r="5.00" fill="#000"/>
<text x="1090.50" y="1159.20" font-size="13.7" text-anchor="start" font-weight="normal" fill="#111">0.50</text>
<circle cx="1079.30" cy="1171.00" r="6.00" fill="#000"/>
<text x="1090.50" y="1175.90" font-size="13.7" text-anchor="start" font-weight="normal" fill="#111">0.75</text>
<circle cx="1079.30" cy="1188.00" r="6.80" fill="#000"/>
<text x="1090.50" y="1192.90" font-size="13.7" text-anchor="start" font-weight="normal" fill="#111">1.00</text>
<text x="1065.20" y="1233.27" font-size="13.6" text-anchor="start" font-weight="normal" fill="#111">Proteome</text>
<text x="1065.20" y="1249.87" font-size="13.6" text-anchor="start" font-weight="normal" fill="#111">Higher abundance</text>
<rect x="1071.00" y="1263.70" width="17.00" height="84.30" fill="url(#gprot)"/>
<line x1="1071.00" y1="1282.25" x2="1074.20" y2="1282.25" stroke="#fff" stroke-width="0.7" opacity="0.6"/>
<line x1="1084.80" y1="1282.25" x2="1088.00" y2="1282.25" stroke="#fff" stroke-width="0.7" opacity="0.6"/>
<line x1="1071.00" y1="1317.40" x2="1074.20" y2="1317.40" stroke="#fff" stroke-width="0.7" opacity="0.6"/>
<line x1="1084.80" y1="1317.40" x2="1088.00" y2="1317.40" stroke="#fff" stroke-width="0.7" opacity="0.6"/>
<line x1="1071.00" y1="1334.51" x2="1074.20" y2="1334.51" stroke="#fff" stroke-width="0.7" opacity="0.6"/>
<line x1="1084.80" y1="1334.51" x2="1088.00" y2="1334.51" stroke="#fff" stroke-width="0.7" opacity="0.6"/>
<text x="1097.30" y="1272.74" font-size="13.8" text-anchor="start" font-weight="normal" fill="#111">pN+</text>
<text x="1097.30" y="1345.54" font-size="13.8" text-anchor="start" font-weight="normal" fill="#111">pN0</text>
</svg>
</body></html>
